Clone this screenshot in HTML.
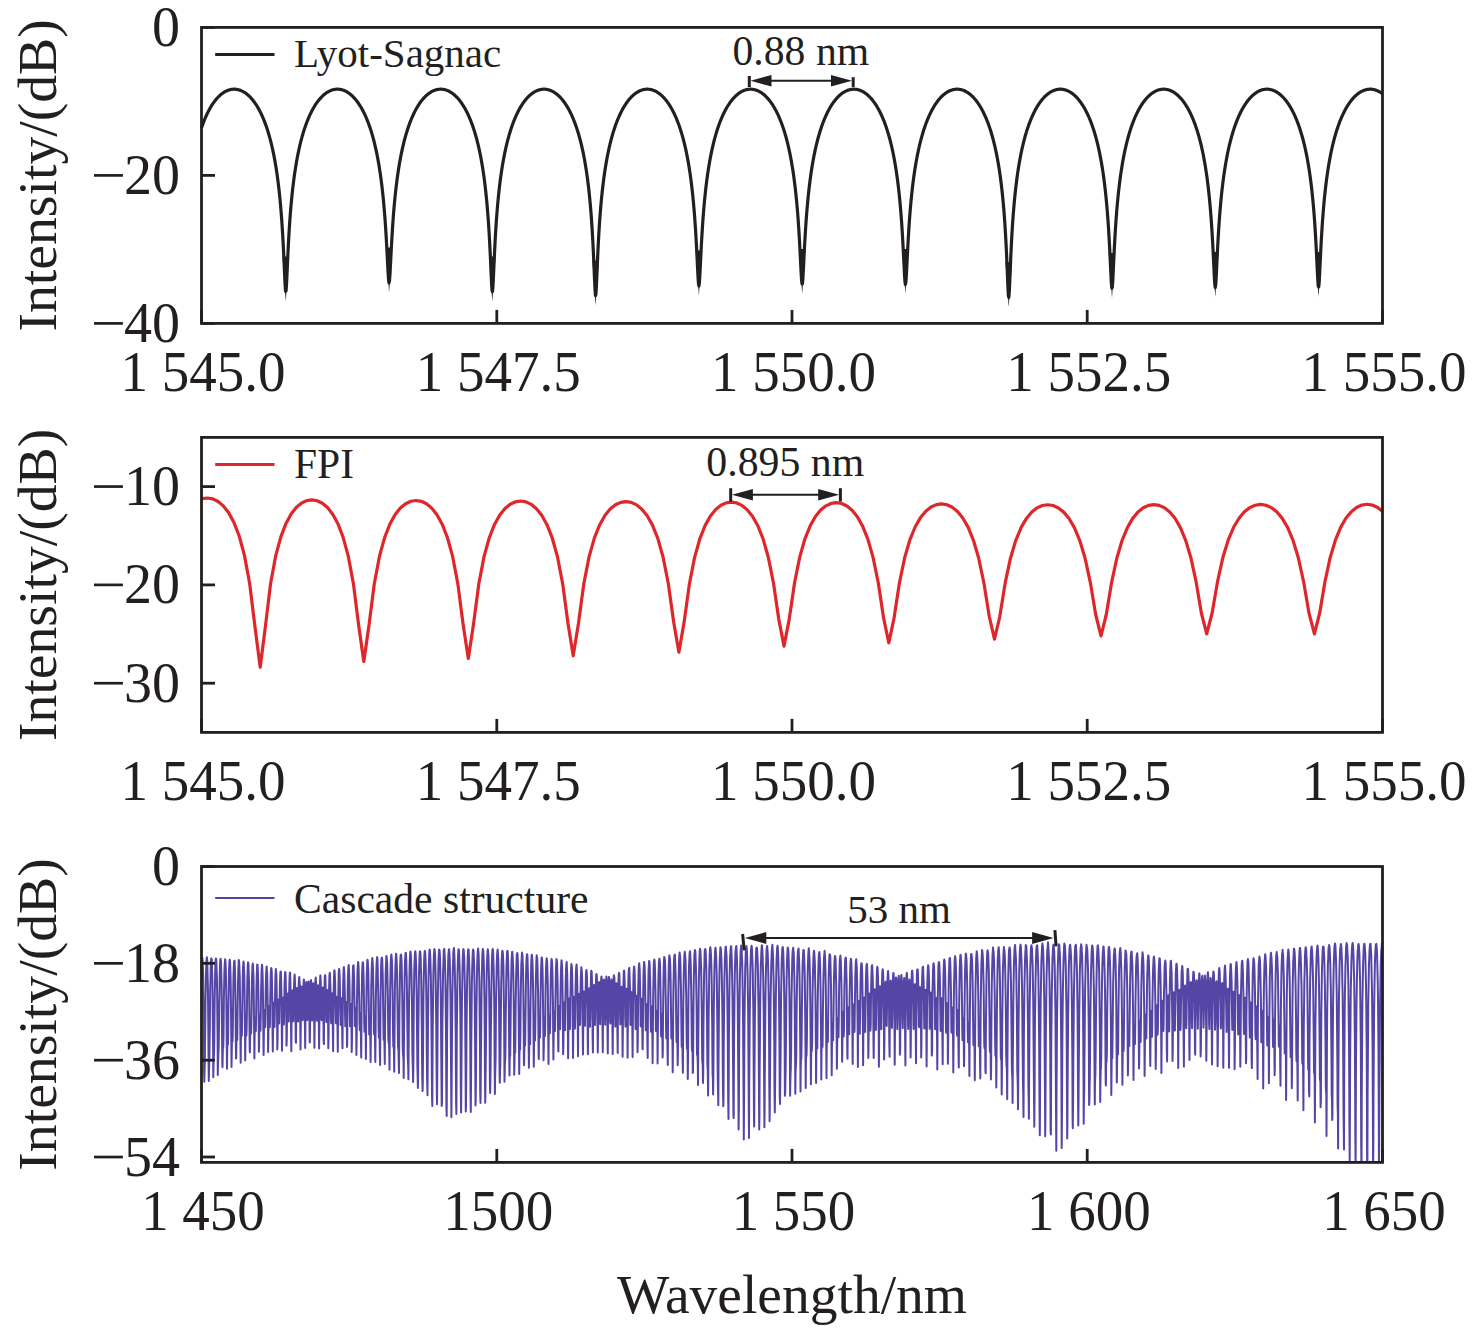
<!DOCTYPE html>
<html><head><meta charset="utf-8"><style>
html,body{margin:0;padding:0;background:#fff;}
svg{display:block;}
text{font-family:"Liberation Serif",serif;fill:#231f20;}
</style></head><body>
<svg width="1476" height="1331" viewBox="0 0 1476 1331">
<rect width="1476" height="1331" fill="#fff"/>
<path d="M201.50 127.97L201.97 126.58 202.44 125.24 202.92 123.93 203.39 122.66 203.86 121.44 204.33 120.24 204.81 119.08 205.28 117.96 205.75 116.87 206.22 115.80 206.70 114.77 207.17 113.77 207.64 112.80 208.11 111.85 208.59 110.93 209.06 110.04 209.53 109.17 210.00 108.32 210.48 107.50 210.95 106.71 211.42 105.93 211.89 105.18 212.37 104.45 212.84 103.74 213.31 103.06 213.78 102.39 214.25 101.74 214.73 101.11 215.20 100.50 215.67 99.91 216.14 99.34 216.62 98.79 217.09 98.25 217.56 97.74 218.03 97.24 218.51 96.75 218.98 96.29 219.45 95.84 219.92 95.40 220.40 94.98 220.87 94.58 221.34 94.19 221.81 93.82 222.29 93.47 222.76 93.13 223.23 92.80 223.70 92.49 224.18 92.19 224.65 91.91 225.12 91.65 225.59 91.39 226.06 91.15 226.54 90.93 227.01 90.72 227.48 90.52 227.95 90.34 228.43 90.17 228.90 90.01 229.37 89.87 229.84 89.74 230.32 89.63 230.79 89.53 231.26 89.44 231.73 89.36 232.21 89.30 232.68 89.25 233.15 89.22 233.62 89.20 234.10 89.19 234.57 89.19 235.04 89.21 235.51 89.24 235.99 89.29 236.46 89.35 236.93 89.42 237.40 89.50 237.87 89.60 238.35 89.71 238.82 89.84 239.29 89.98 239.76 90.13 240.24 90.29 240.71 90.47 241.18 90.67 241.65 90.87 242.13 91.09 242.60 91.33 243.07 91.58 243.54 91.84 244.02 92.12 244.49 92.41 244.96 92.72 245.43 93.04 245.91 93.38 246.38 93.73 246.85 94.10 247.32 94.48 247.80 94.88 248.27 95.29 248.74 95.72 249.21 96.17 249.68 96.63 250.16 97.11 250.63 97.60 251.10 98.12 251.57 98.65 252.05 99.20 252.52 99.76 252.99 100.35 253.46 100.95 253.94 101.57 254.41 102.22 254.88 102.88 255.35 103.56 255.83 104.26 256.30 104.99 256.77 105.73 257.24 106.50 257.72 107.29 258.19 108.11 258.66 108.94 259.13 109.81 259.61 110.69 260.08 111.61 260.55 112.54 261.02 113.51 261.49 114.51 261.97 115.53 262.44 116.58 262.91 117.67 263.38 118.78 263.86 119.93 264.33 121.12 264.80 122.34 265.27 123.59 265.75 124.89 266.22 126.22 266.69 127.60 267.16 129.02 267.64 130.49 268.11 132.00 268.58 133.56 269.05 135.18 269.53 136.84 270.00 138.57 270.47 140.36 270.94 142.21 271.42 144.13 271.89 146.12 272.36 148.19 272.83 150.34 273.30 152.58 273.78 154.91 274.25 157.34 274.72 159.88 275.19 162.53 275.67 165.31 276.14 168.23 276.61 171.29 277.08 174.52 277.56 177.93 278.03 181.54 278.50 185.36 278.97 189.44 279.45 193.79 279.92 198.45 280.39 203.47 280.86 208.90 281.34 214.79 281.81 221.23 282.28 228.30 282.75 236.10 283.23 244.74 283.70 254.28 284.17 264.65 284.64 275.41 285.11 285.20 285.59 291.30 286.06 290.88 286.53 284.17 287.00 274.15 287.48 263.39 287.95 253.10 288.42 243.67 288.89 235.14 289.37 227.43 289.84 220.44 290.31 214.07 290.78 208.23 291.26 202.86 291.73 197.88 292.20 193.26 292.67 188.94 293.15 184.90 293.62 181.10 294.09 177.52 294.56 174.13 295.04 170.92 295.51 167.87 295.98 164.97 296.45 162.21 296.92 159.57 297.40 157.05 297.87 154.63 298.34 152.31 298.81 150.08 299.29 147.94 299.76 145.88 300.23 143.90 300.70 141.99 301.18 140.14 301.65 138.36 302.12 136.64 302.59 134.98 303.07 133.37 303.54 131.82 304.01 130.31 304.48 128.85 304.96 127.44 305.43 126.06 305.90 124.73 306.37 123.44 306.85 122.19 307.32 120.98 307.79 119.80 308.26 118.65 308.73 117.54 309.21 116.46 309.68 115.41 310.15 114.39 310.62 113.40 311.10 112.43 311.57 111.50 312.04 110.59 312.51 109.70 312.99 108.84 313.46 108.01 313.93 107.20 314.40 106.41 314.88 105.64 315.35 104.90 315.82 104.18 316.29 103.48 316.77 102.80 317.24 102.14 317.71 101.50 318.18 100.88 318.66 100.28 319.13 99.69 319.60 99.13 320.07 98.58 320.54 98.06 321.02 97.54 321.49 97.05 321.96 96.57 322.43 96.11 322.91 95.67 323.38 95.24 323.85 94.83 324.32 94.43 324.80 94.05 325.27 93.69 325.74 93.34 326.21 93.00 326.69 92.68 327.16 92.38 327.63 92.09 328.10 91.81 328.58 91.55 329.05 91.30 329.52 91.07 329.99 90.85 330.47 90.64 330.94 90.45 331.41 90.27 331.88 90.11 332.35 89.96 332.83 89.82 333.30 89.70 333.77 89.59 334.24 89.49 334.72 89.41 335.19 89.34 335.66 89.28 336.13 89.24 336.61 89.21 337.08 89.19 337.55 89.19 338.02 89.20 338.50 89.22 338.97 89.26 339.44 89.31 339.91 89.37 340.39 89.45 340.86 89.54 341.33 89.64 341.80 89.76 342.28 89.89 342.75 90.03 343.22 90.19 343.69 90.36 344.16 90.54 344.64 90.74 345.11 90.95 345.58 91.18 346.05 91.42 346.53 91.67 347.00 91.94 347.47 92.23 347.94 92.52 348.42 92.84 348.89 93.16 349.36 93.51 349.83 93.86 350.31 94.24 350.78 94.62 351.25 95.03 351.72 95.45 352.20 95.88 352.67 96.34 353.14 96.80 353.61 97.29 354.09 97.79 354.56 98.31 355.03 98.85 355.50 99.40 355.97 99.98 356.45 100.57 356.92 101.18 357.39 101.81 357.86 102.46 358.34 103.13 358.81 103.82 359.28 104.53 359.75 105.26 360.23 106.01 360.70 106.79 361.17 107.59 361.64 108.41 362.12 109.25 362.59 110.12 363.06 111.02 363.53 111.94 364.01 112.89 364.48 113.87 364.95 114.87 365.42 115.90 365.90 116.97 366.37 118.06 366.84 119.19 367.31 120.35 367.78 121.55 368.26 122.78 368.73 124.05 369.20 125.35 369.67 126.70 370.15 128.09 370.62 129.53 371.09 131.01 371.56 132.53 372.04 134.11 372.51 135.74 372.98 137.43 373.45 139.18 373.93 140.98 374.40 142.85 374.87 144.79 375.34 146.81 375.82 148.90 376.29 151.07 376.76 153.34 377.23 155.69 377.71 158.15 378.18 160.72 378.65 163.40 379.12 166.22 379.59 169.17 380.07 172.27 380.54 175.54 381.01 178.99 381.48 182.64 381.96 186.51 382.43 190.63 382.90 195.03 383.37 199.74 383.85 204.81 384.32 210.27 384.79 216.20 385.26 222.64 385.74 229.67 386.21 237.35 386.68 245.72 387.15 254.72 387.63 264.08 388.10 273.04 388.57 280.05 389.04 282.99 389.52 280.65 389.99 274.01 390.46 265.19 390.93 255.83 391.40 246.76 391.88 238.31 392.35 230.55 392.82 223.45 393.29 216.94 393.77 210.95 394.24 205.44 394.71 200.33 395.18 195.58 395.66 191.14 396.13 186.99 396.60 183.09 397.07 179.41 397.55 175.94 398.02 172.65 398.49 169.53 398.96 166.56 399.44 163.73 399.91 161.03 400.38 158.45 400.85 155.98 401.33 153.61 401.80 151.34 402.27 149.15 402.74 147.05 403.21 145.03 403.69 143.08 404.16 141.20 404.63 139.39 405.10 137.63 405.58 135.94 406.05 134.30 406.52 132.72 406.99 131.19 407.47 129.70 407.94 128.26 408.41 126.87 408.88 125.51 409.36 124.20 409.83 122.93 410.30 121.69 410.77 120.49 411.25 119.33 411.72 118.20 412.19 117.10 412.66 116.03 413.14 114.99 413.61 113.98 414.08 113.00 414.55 112.05 415.02 111.13 415.50 110.23 415.97 109.36 416.44 108.51 416.91 107.68 417.39 106.88 417.86 106.10 418.33 105.35 418.80 104.61 419.28 103.90 419.75 103.21 420.22 102.54 420.69 101.88 421.17 101.25 421.64 100.64 422.11 100.05 422.58 99.47 423.06 98.91 423.53 98.37 424.00 97.85 424.47 97.35 424.95 96.86 425.42 96.39 425.89 95.94 426.36 95.50 426.83 95.08 427.31 94.67 427.78 94.28 428.25 93.91 428.72 93.55 429.20 93.20 429.67 92.88 430.14 92.56 430.61 92.26 431.09 91.98 431.56 91.71 432.03 91.45 432.50 91.21 432.98 90.98 433.45 90.77 433.92 90.57 434.39 90.38 434.87 90.21 435.34 90.05 435.81 89.90 436.28 89.77 436.76 89.65 437.23 89.55 437.70 89.46 438.17 89.38 438.64 89.32 439.12 89.27 439.59 89.23 440.06 89.20 440.53 89.19 441.01 89.19 441.48 89.21 441.95 89.24 442.42 89.28 442.90 89.33 443.37 89.40 443.84 89.48 444.31 89.58 444.79 89.68 445.26 89.81 445.73 89.94 446.20 90.09 446.68 90.25 447.15 90.43 447.62 90.62 448.09 90.82 448.57 91.04 449.04 91.27 449.51 91.52 449.98 91.78 450.45 92.05 450.93 92.34 451.40 92.64 451.87 92.96 452.34 93.30 452.82 93.64 453.29 94.01 453.76 94.39 454.23 94.78 454.71 95.19 455.18 95.62 455.65 96.06 456.12 96.52 456.60 96.99 457.07 97.48 457.54 97.99 458.01 98.52 458.49 99.06 458.96 99.63 459.43 100.21 459.90 100.81 460.38 101.42 460.85 102.06 461.32 102.72 461.79 103.40 462.26 104.10 462.74 104.81 463.21 105.55 463.68 106.32 464.15 107.10 464.63 107.91 465.10 108.74 465.57 109.60 466.04 110.48 466.52 111.39 466.99 112.32 467.46 113.28 467.93 114.27 468.41 115.28 468.88 116.33 469.35 117.41 469.82 118.52 470.30 119.66 470.77 120.83 471.24 122.05 471.71 123.29 472.19 124.58 472.66 125.90 473.13 127.27 473.60 128.68 474.07 130.13 474.55 131.63 475.02 133.19 475.49 134.79 475.96 136.44 476.44 138.16 476.91 139.93 477.38 141.77 477.85 143.67 478.33 145.64 478.80 147.69 479.27 149.82 479.74 152.04 480.22 154.35 480.69 156.75 481.16 159.26 481.63 161.89 482.11 164.64 482.58 167.52 483.05 170.55 483.52 173.74 484.00 177.10 484.47 180.66 484.94 184.43 485.41 188.45 485.88 192.73 486.36 197.31 486.83 202.24 487.30 207.57 487.77 213.35 488.25 219.65 488.72 226.56 489.19 234.18 489.66 242.61 490.14 251.93 490.61 262.13 491.08 272.87 491.55 283.09 492.03 290.37 492.50 291.62 492.97 286.19 493.44 276.67 493.92 265.92 494.39 255.47 494.86 245.83 495.33 237.09 495.81 229.19 496.28 222.04 496.75 215.53 497.22 209.57 497.69 204.09 498.17 199.03 498.64 194.33 499.11 189.94 499.58 185.83 500.06 181.98 500.53 178.35 501.00 174.92 501.47 171.67 501.95 168.58 502.42 165.65 502.89 162.85 503.36 160.19 503.84 157.64 504.31 155.19 504.78 152.85 505.25 150.60 505.73 148.44 506.20 146.37 506.67 144.36 507.14 142.44 507.62 140.58 508.09 138.78 508.56 137.05 509.03 135.37 509.50 133.75 509.98 132.18 510.45 130.66 510.92 129.19 511.39 127.77 511.87 126.39 512.34 125.05 512.81 123.75 513.28 122.49 513.76 121.26 514.23 120.07 514.70 118.92 515.17 117.80 515.65 116.71 516.12 115.65 516.59 114.63 517.06 113.63 517.54 112.66 518.01 111.72 518.48 110.80 518.95 109.91 519.43 109.04 519.90 108.20 520.37 107.39 520.84 106.59 521.31 105.82 521.79 105.08 522.26 104.35 522.73 103.64 523.20 102.96 523.68 102.29 524.15 101.65 524.62 101.02 525.09 100.42 525.57 99.83 526.04 99.26 526.51 98.71 526.98 98.18 527.46 97.66 527.93 97.17 528.40 96.68 528.87 96.22 529.35 95.77 529.82 95.34 530.29 94.92 530.76 94.52 531.24 94.14 531.71 93.77 532.18 93.42 532.65 93.08 533.12 92.76 533.60 92.45 534.07 92.15 534.54 91.87 535.01 91.61 535.49 91.36 535.96 91.12 536.43 90.90 536.90 90.69 537.38 90.49 537.85 90.31 538.32 90.15 538.79 89.99 539.27 89.85 539.74 89.73 540.21 89.61 540.68 89.51 541.16 89.43 541.63 89.35 542.10 89.30 542.57 89.25 543.05 89.22 543.52 89.20 543.99 89.19 544.46 89.20 544.93 89.22 545.41 89.25 545.88 89.30 546.35 89.36 546.82 89.43 547.30 89.52 547.77 89.62 548.24 89.73 548.71 89.86 549.19 90.00 549.66 90.15 550.13 90.32 550.60 90.50 551.08 90.69 551.55 90.90 552.02 91.13 552.49 91.36 552.97 91.62 553.44 91.88 553.91 92.16 554.38 92.46 554.86 92.76 555.33 93.09 555.80 93.43 556.27 93.78 556.74 94.15 557.22 94.54 557.69 94.94 558.16 95.35 558.63 95.78 559.11 96.23 559.58 96.70 560.05 97.18 560.52 97.68 561.00 98.19 561.47 98.73 561.94 99.28 562.41 99.85 562.89 100.44 563.36 101.04 563.83 101.67 564.30 102.31 564.78 102.98 565.25 103.66 565.72 104.37 566.19 105.10 566.67 105.85 567.14 106.62 567.61 107.41 568.08 108.23 568.55 109.07 569.03 109.94 569.50 110.83 569.97 111.75 570.44 112.69 570.92 113.66 571.39 114.66 571.86 115.69 572.33 116.75 572.81 117.84 573.28 118.96 573.75 120.11 574.22 121.30 574.70 122.53 575.17 123.79 575.64 125.09 576.11 126.43 576.59 127.82 577.06 129.25 577.53 130.72 578.00 132.24 578.48 133.81 578.95 135.43 579.42 137.11 579.89 138.85 580.36 140.65 580.84 142.51 581.31 144.44 581.78 146.45 582.25 148.53 582.73 150.70 583.20 152.95 583.67 155.30 584.14 157.75 584.62 160.31 585.09 162.98 585.56 165.79 586.03 168.73 586.51 171.83 586.98 175.09 587.45 178.54 587.92 182.19 588.40 186.07 588.87 190.20 589.34 194.61 589.81 199.35 590.29 204.46 590.76 210.00 591.23 216.03 591.70 222.63 592.17 229.91 592.65 237.98 593.12 246.96 593.59 256.96 594.06 267.92 594.54 279.37 595.01 289.71 595.48 295.64 595.95 294.02 596.43 285.82 596.90 274.73 597.37 263.36 597.84 252.77 598.32 243.20 598.79 234.60 599.26 226.87 599.73 219.87 600.21 213.51 600.68 207.69 601.15 202.34 601.62 197.39 602.10 192.78 602.57 188.49 603.04 184.46 603.51 180.68 603.98 177.12 604.46 173.75 604.93 170.55 605.40 167.52 605.87 164.63 606.35 161.88 606.82 159.25 607.29 156.74 607.76 154.33 608.24 152.02 608.71 149.81 609.18 147.68 609.65 145.63 610.13 143.65 610.60 141.75 611.07 139.91 611.54 138.14 612.02 136.42 612.49 134.77 612.96 133.17 613.43 131.62 613.91 130.11 614.38 128.66 614.85 127.25 615.32 125.88 615.79 124.56 616.27 123.27 616.74 122.03 617.21 120.82 617.68 119.64 618.16 118.50 618.63 117.39 619.10 116.31 619.57 115.27 620.05 114.25 620.52 113.26 620.99 112.30 621.46 111.37 621.94 110.46 622.41 109.58 622.88 108.73 623.35 107.90 623.83 107.09 624.30 106.30 624.77 105.54 625.24 104.80 625.72 104.08 626.19 103.38 626.66 102.71 627.13 102.05 627.60 101.41 628.08 100.79 628.55 100.20 629.02 99.61 629.49 99.05 629.97 98.51 630.44 97.98 630.91 97.47 631.38 96.98 631.86 96.51 632.33 96.05 632.80 95.61 633.27 95.18 633.75 94.77 634.22 94.38 634.69 94.00 635.16 93.64 635.64 93.29 636.11 92.95 636.58 92.64 637.05 92.33 637.53 92.05 638.00 91.77 638.47 91.51 638.94 91.27 639.41 91.03 639.89 90.82 640.36 90.61 640.83 90.42 641.30 90.25 641.78 90.09 642.25 89.94 642.72 89.80 643.19 89.68 643.67 89.57 644.14 89.48 644.61 89.40 645.08 89.33 645.56 89.28 646.03 89.24 646.50 89.21 646.97 89.19 647.45 89.19 647.92 89.20 648.39 89.23 648.86 89.27 649.34 89.32 649.81 89.38 650.28 89.46 650.75 89.55 651.22 89.66 651.70 89.78 652.17 89.91 652.64 90.05 653.11 90.21 653.59 90.39 654.06 90.57 654.53 90.77 655.00 90.99 655.48 91.21 655.95 91.46 656.42 91.71 656.89 91.98 657.37 92.27 657.84 92.57 658.31 92.88 658.78 93.21 659.26 93.56 659.73 93.92 660.20 94.29 660.67 94.68 661.15 95.09 661.62 95.51 662.09 95.95 662.56 96.40 663.03 96.87 663.51 97.36 663.98 97.87 664.45 98.39 664.92 98.93 665.40 99.49 665.87 100.06 666.34 100.66 666.81 101.27 667.29 101.90 667.76 102.56 668.23 103.23 668.70 103.92 669.18 104.63 669.65 105.37 670.12 106.13 670.59 106.91 671.07 107.71 671.54 108.53 672.01 109.38 672.48 110.26 672.96 111.16 673.43 112.08 673.90 113.04 674.37 114.02 674.84 115.03 675.32 116.06 675.79 117.13 676.26 118.23 676.73 119.37 677.21 120.53 677.68 121.73 678.15 122.97 678.62 124.25 679.10 125.56 679.57 126.92 680.04 128.31 680.51 129.75 680.99 131.24 681.46 132.78 681.93 134.37 682.40 136.01 682.88 137.70 683.35 139.46 683.82 141.28 684.29 143.16 684.77 145.11 685.24 147.14 685.71 149.24 686.18 151.43 686.65 153.71 687.13 156.09 687.60 158.57 688.07 161.16 688.54 163.86 689.02 166.70 689.49 169.68 689.96 172.82 690.43 176.12 690.91 179.61 691.38 183.30 691.85 187.23 692.32 191.41 692.80 195.87 693.27 200.66 693.74 205.82 694.21 211.40 694.69 217.46 695.16 224.06 695.63 231.30 696.10 239.24 696.58 247.93 697.05 257.32 697.52 267.12 697.99 276.47 698.46 283.56 698.94 285.98 699.41 282.63 699.88 274.99 700.35 265.46 700.83 255.69 701.30 246.40 701.77 237.84 702.24 230.03 702.72 222.91 703.19 216.40 703.66 210.42 704.13 204.92 704.61 199.83 705.08 195.10 705.55 190.68 706.02 186.55 706.50 182.66 706.97 179.01 707.44 175.55 707.91 172.28 708.39 169.17 708.86 166.21 709.33 163.40 709.80 160.71 710.27 158.14 710.75 155.68 711.22 153.32 711.69 151.06 712.16 148.88 712.64 146.79 713.11 144.78 713.58 142.84 714.05 140.96 714.53 139.16 715.00 137.41 715.47 135.72 715.94 134.09 716.42 132.52 716.89 130.99 717.36 129.51 717.83 128.07 718.31 126.68 718.78 125.34 719.25 124.03 719.72 122.76 720.20 121.53 720.67 120.33 721.14 119.17 721.61 118.04 722.08 116.95 722.56 115.89 723.03 114.85 723.50 113.85 723.97 112.87 724.45 111.92 724.92 111.00 725.39 110.11 725.86 109.24 726.34 108.39 726.81 107.57 727.28 106.77 727.75 106.00 728.23 105.24 728.70 104.51 729.17 103.80 729.64 103.11 730.12 102.44 730.59 101.80 731.06 101.17 731.53 100.56 732.01 99.96 732.48 99.39 732.95 98.84 733.42 98.30 733.89 97.78 734.37 97.28 734.84 96.79 735.31 96.33 735.78 95.87 736.26 95.44 736.73 95.02 737.20 94.62 737.67 94.23 738.15 93.86 738.62 93.50 739.09 93.16 739.56 92.83 740.04 92.52 740.51 92.22 740.98 91.94 741.45 91.67 741.93 91.41 742.40 91.17 742.87 90.95 743.34 90.74 743.82 90.54 744.29 90.36 744.76 90.18 745.23 90.03 745.70 89.88 746.18 89.76 746.65 89.64 747.12 89.54 747.59 89.45 748.07 89.37 748.54 89.31 749.01 89.26 749.48 89.22 749.96 89.20 750.43 89.19 750.90 89.19 751.37 89.21 751.85 89.24 752.32 89.28 752.79 89.34 753.26 89.41 753.74 89.49 754.21 89.59 754.68 89.70 755.15 89.82 755.63 89.96 756.10 90.11 756.57 90.28 757.04 90.45 757.51 90.65 757.99 90.85 758.46 91.07 758.93 91.31 759.40 91.55 759.88 91.81 760.35 92.09 760.82 92.38 761.29 92.69 761.77 93.01 762.24 93.34 762.71 93.69 763.18 94.06 763.66 94.44 764.13 94.84 764.60 95.25 765.07 95.68 765.55 96.12 766.02 96.58 766.49 97.06 766.96 97.55 767.44 98.06 767.91 98.59 768.38 99.14 768.85 99.70 769.32 100.29 769.80 100.89 770.27 101.51 770.74 102.15 771.21 102.81 771.69 103.49 772.16 104.19 772.63 104.91 773.10 105.65 773.58 106.42 774.05 107.21 774.52 108.02 774.99 108.85 775.47 109.71 775.94 110.59 776.41 111.50 776.88 112.44 777.36 113.40 777.83 114.39 778.30 115.41 778.77 116.46 779.25 117.54 779.72 118.66 780.19 119.80 780.66 120.98 781.13 122.20 781.61 123.45 782.08 124.74 782.55 126.06 783.02 127.44 783.50 128.85 783.97 130.31 784.44 131.81 784.91 133.37 785.39 134.97 785.86 136.63 786.33 138.35 786.80 140.13 787.28 141.97 787.75 143.88 788.22 145.86 788.69 147.91 789.17 150.05 789.64 152.27 790.11 154.59 790.58 157.00 791.06 159.51 791.53 162.14 792.00 164.90 792.47 167.79 792.94 170.82 793.42 174.01 793.89 177.38 794.36 180.94 794.83 184.71 795.31 188.72 795.78 192.99 796.25 197.57 796.72 202.47 797.20 207.76 797.67 213.49 798.14 219.71 798.61 226.51 799.09 233.94 799.56 242.07 800.03 250.92 800.50 260.34 800.98 269.87 801.45 278.34 801.92 283.69 802.39 283.88 802.87 278.83 803.34 270.50 803.81 261.00 804.28 251.54 804.75 242.65 805.23 234.47 805.70 226.99 806.17 220.16 806.64 213.90 807.12 208.14 807.59 202.82 808.06 197.89 808.53 193.30 809.01 189.00 809.48 184.98 809.95 181.19 810.42 177.62 810.90 174.24 811.37 171.03 811.84 167.99 812.31 165.09 812.79 162.33 813.26 159.69 813.73 157.16 814.20 154.75 814.68 152.43 815.15 150.20 815.62 148.06 816.09 146.00 816.56 144.01 817.04 142.10 817.51 140.25 817.98 138.47 818.45 136.75 818.93 135.09 819.40 133.48 819.87 131.92 820.34 130.41 820.82 128.95 821.29 127.53 821.76 126.16 822.23 124.83 822.71 123.53 823.18 122.28 823.65 121.06 824.12 119.88 824.60 118.73 825.07 117.62 825.54 116.54 826.01 115.48 826.49 114.46 826.96 113.47 827.43 112.50 827.90 111.57 828.37 110.66 828.85 109.77 829.32 108.91 829.79 108.07 830.26 107.26 830.74 106.47 831.21 105.70 831.68 104.96 832.15 104.24 832.63 103.53 833.10 102.85 833.57 102.19 834.04 101.55 834.52 100.93 834.99 100.33 835.46 99.74 835.93 99.18 836.41 98.63 836.88 98.10 837.35 97.59 837.82 97.09 838.30 96.61 838.77 96.15 839.24 95.71 839.71 95.28 840.18 94.86 840.66 94.47 841.13 94.08 841.60 93.72 842.07 93.37 842.55 93.03 843.02 92.71 843.49 92.40 843.96 92.11 844.44 91.83 844.91 91.57 845.38 91.32 845.85 91.09 846.33 90.87 846.80 90.66 847.27 90.47 847.74 90.29 848.22 90.12 848.69 89.97 849.16 89.83 849.63 89.71 850.11 89.60 850.58 89.50 851.05 89.42 851.52 89.35 851.99 89.29 852.47 89.24 852.94 89.21 853.41 89.19 853.88 89.19 854.36 89.20 854.83 89.22 855.30 89.26 855.77 89.30 856.25 89.37 856.72 89.44 857.19 89.53 857.66 89.63 858.14 89.75 858.61 89.88 859.08 90.02 859.55 90.17 860.03 90.34 860.50 90.53 860.97 90.72 861.44 90.93 861.92 91.16 862.39 91.40 862.86 91.65 863.33 91.92 863.80 92.20 864.28 92.50 864.75 92.81 865.22 93.13 865.69 93.47 866.17 93.83 866.64 94.20 867.11 94.59 867.58 94.99 868.06 95.41 868.53 95.84 869.00 96.29 869.47 96.76 869.95 97.24 870.42 97.74 870.89 98.26 871.36 98.80 871.84 99.35 872.31 99.92 872.78 100.51 873.25 101.12 873.73 101.75 874.20 102.40 874.67 103.06 875.14 103.75 875.61 104.46 876.09 105.19 876.56 105.94 877.03 106.72 877.50 107.51 877.98 108.33 878.45 109.18 878.92 110.04 879.39 110.94 879.87 111.86 880.34 112.80 880.81 113.78 881.28 114.78 881.76 115.81 882.23 116.87 882.70 117.96 883.17 119.09 883.65 120.25 884.12 121.44 884.59 122.67 885.06 123.93 885.54 125.24 886.01 126.58 886.48 127.97 886.95 129.40 887.42 130.88 887.90 132.40 888.37 133.97 888.84 135.60 889.31 137.28 889.79 139.02 890.26 140.82 890.73 142.69 891.20 144.63 891.68 146.63 892.15 148.72 892.62 150.89 893.09 153.14 893.57 155.49 894.04 157.94 894.51 160.50 894.98 163.18 895.46 165.98 895.93 168.92 896.40 172.02 896.87 175.27 897.35 178.71 897.82 182.35 898.29 186.21 898.76 190.32 899.23 194.70 899.71 199.39 900.18 204.44 900.65 209.89 901.12 215.80 901.60 222.23 902.07 229.26 902.54 236.95 903.01 245.36 903.49 254.46 903.96 264.01 904.43 273.32 904.90 280.88 905.38 284.43 905.85 282.49 906.32 275.91 906.79 266.93 907.27 257.35 907.74 248.07 908.21 239.45 908.68 231.54 909.16 224.31 909.63 217.71 910.10 211.65 910.57 206.06 911.04 200.90 911.52 196.10 911.99 191.62 912.46 187.44 912.93 183.50 913.41 179.80 913.88 176.30 914.35 172.99 914.82 169.85 915.30 166.87 915.77 164.02 916.24 161.31 916.71 158.71 917.19 156.23 917.66 153.85 918.13 151.57 918.60 149.37 919.08 147.26 919.55 145.23 920.02 143.28 920.49 141.39 920.97 139.57 921.44 137.81 921.91 136.11 922.38 134.47 922.85 132.88 923.33 131.34 923.80 129.85 924.27 128.40 924.74 127.00 925.22 125.64 925.69 124.33 926.16 123.05 926.63 121.81 927.11 120.61 927.58 119.44 928.05 118.30 928.52 117.20 929.00 116.13 929.47 115.09 929.94 114.08 930.41 113.10 930.89 112.14 931.36 111.22 931.83 110.31 932.30 109.44 932.78 108.59 933.25 107.76 933.72 106.96 934.19 106.18 934.66 105.42 935.14 104.68 935.61 103.97 936.08 103.27 936.55 102.60 937.03 101.95 937.50 101.31 937.97 100.70 938.44 100.10 938.92 99.52 939.39 98.97 939.86 98.42 940.33 97.90 940.81 97.40 941.28 96.91 941.75 96.43 942.22 95.98 942.70 95.54 943.17 95.12 943.64 94.71 944.11 94.32 944.59 93.94 945.06 93.58 945.53 93.24 946.00 92.91 946.47 92.59 946.95 92.29 947.42 92.00 947.89 91.73 948.36 91.47 948.84 91.23 949.31 91.00 949.78 90.79 950.25 90.58 950.73 90.40 951.20 90.22 951.67 90.06 952.14 89.92 952.62 89.78 953.09 89.67 953.56 89.56 954.03 89.47 954.51 89.39 954.98 89.32 955.45 89.27 955.92 89.23 956.40 89.20 956.87 89.19 957.34 89.19 957.81 89.21 958.28 89.23 958.76 89.27 959.23 89.33 959.70 89.39 960.17 89.47 960.65 89.57 961.12 89.67 961.59 89.79 962.06 89.93 962.54 90.08 963.01 90.24 963.48 90.41 963.95 90.60 964.43 90.80 964.90 91.02 965.37 91.25 965.84 91.49 966.32 91.75 966.79 92.03 967.26 92.31 967.73 92.62 968.21 92.93 968.68 93.26 969.15 93.61 969.62 93.97 970.09 94.35 970.57 94.74 971.04 95.15 971.51 95.58 971.98 96.02 972.46 96.48 972.93 96.95 973.40 97.44 973.87 97.95 974.35 98.47 974.82 99.02 975.29 99.58 975.76 100.16 976.24 100.75 976.71 101.37 977.18 102.01 977.65 102.66 978.13 103.34 978.60 104.03 979.07 104.75 979.54 105.49 980.02 106.25 980.49 107.04 980.96 107.84 981.43 108.67 981.90 109.53 982.38 110.41 982.85 111.31 983.32 112.24 983.79 113.20 984.27 114.19 984.74 115.20 985.21 116.24 985.68 117.32 986.16 118.43 986.63 119.57 987.10 120.74 987.57 121.95 988.05 123.19 988.52 124.48 988.99 125.80 989.46 127.16 989.94 128.57 990.41 130.02 990.88 131.52 991.35 133.07 991.83 134.67 992.30 136.32 992.77 138.03 993.24 139.80 993.71 141.63 994.19 143.53 994.66 145.50 995.13 147.55 995.60 149.67 996.08 151.89 996.55 154.19 997.02 156.59 997.49 159.10 997.97 161.72 998.44 164.47 998.91 167.35 999.38 170.37 999.86 173.56 1000.33 176.92 1000.80 180.47 1001.27 184.25 1001.75 188.26 1002.22 192.54 1002.69 197.13 1003.16 202.08 1003.64 207.42 1004.11 213.22 1004.58 219.57 1005.05 226.55 1005.52 234.28 1006.00 242.89 1006.47 252.51 1006.94 263.20 1007.41 274.78 1007.89 286.31 1008.36 295.21 1008.83 297.47 1009.30 291.72 1009.78 281.17 1010.25 269.41 1010.72 258.18 1011.19 247.98 1011.67 238.84 1012.14 230.65 1012.61 223.28 1013.08 216.60 1013.56 210.51 1014.03 204.92 1014.50 199.77 1014.97 195.00 1015.45 190.55 1015.92 186.39 1016.39 182.49 1016.86 178.82 1017.33 175.36 1017.81 172.08 1018.28 168.97 1018.75 166.01 1019.22 163.20 1019.70 160.51 1020.17 157.94 1020.64 155.48 1021.11 153.13 1021.59 150.86 1022.06 148.69 1022.53 146.60 1023.00 144.59 1023.48 142.65 1023.95 140.78 1024.42 138.98 1024.89 137.24 1025.37 135.56 1025.84 133.93 1026.31 132.35 1026.78 130.83 1027.26 129.35 1027.73 127.92 1028.20 126.53 1028.67 125.19 1029.14 123.88 1029.62 122.62 1030.09 121.39 1030.56 120.20 1031.03 119.04 1031.51 117.92 1031.98 116.82 1032.45 115.76 1032.92 114.73 1033.40 113.73 1033.87 112.76 1034.34 111.81 1034.81 110.89 1035.29 110.00 1035.76 109.13 1036.23 108.29 1036.70 107.47 1037.18 106.67 1037.65 105.90 1038.12 105.15 1038.59 104.42 1039.07 103.71 1039.54 103.03 1040.01 102.36 1040.48 101.71 1040.95 101.09 1041.43 100.48 1041.90 99.89 1042.37 99.32 1042.84 98.77 1043.32 98.23 1043.79 97.71 1044.26 97.21 1044.73 96.73 1045.21 96.26 1045.68 95.82 1046.15 95.38 1046.62 94.96 1047.10 94.56 1047.57 94.18 1048.04 93.81 1048.51 93.45 1048.99 93.11 1049.46 92.79 1049.93 92.48 1050.40 92.18 1050.88 91.90 1051.35 91.63 1051.82 91.38 1052.29 91.14 1052.76 90.92 1053.24 90.71 1053.71 90.51 1054.18 90.33 1054.65 90.16 1055.13 90.01 1055.60 89.87 1056.07 89.74 1056.54 89.62 1057.02 89.52 1057.49 89.44 1057.96 89.36 1058.43 89.30 1058.91 89.25 1059.38 89.22 1059.85 89.20 1060.32 89.19 1060.80 89.20 1061.27 89.21 1061.74 89.25 1062.21 89.29 1062.69 89.35 1063.16 89.42 1063.63 89.51 1064.10 89.61 1064.57 89.72 1065.05 89.84 1065.52 89.98 1065.99 90.14 1066.46 90.30 1066.94 90.48 1067.41 90.68 1067.88 90.88 1068.35 91.10 1068.83 91.34 1069.30 91.59 1069.77 91.85 1070.24 92.13 1070.72 92.43 1071.19 92.73 1071.66 93.06 1072.13 93.39 1072.61 93.75 1073.08 94.11 1073.55 94.50 1074.02 94.90 1074.50 95.31 1074.97 95.74 1075.44 96.19 1075.91 96.65 1076.38 97.13 1076.86 97.63 1077.33 98.14 1077.80 98.67 1078.27 99.22 1078.75 99.79 1079.22 100.38 1079.69 100.98 1080.16 101.60 1080.64 102.25 1081.11 102.91 1081.58 103.59 1082.05 104.30 1082.53 105.02 1083.00 105.77 1083.47 106.54 1083.94 107.33 1084.42 108.14 1084.89 108.98 1085.36 109.84 1085.83 110.73 1086.31 111.65 1086.78 112.59 1087.25 113.55 1087.72 114.55 1088.19 115.57 1088.67 116.63 1089.14 117.71 1089.61 118.83 1090.08 119.98 1090.56 121.17 1091.03 122.39 1091.50 123.65 1091.97 124.94 1092.45 126.28 1092.92 127.66 1093.39 129.08 1093.86 130.54 1094.34 132.06 1094.81 133.62 1095.28 135.24 1095.75 136.91 1096.23 138.64 1096.70 140.43 1097.17 142.28 1097.64 144.20 1098.12 146.19 1098.59 148.26 1099.06 150.42 1099.53 152.65 1100.00 154.99 1100.48 157.42 1100.95 159.96 1101.42 162.61 1101.89 165.39 1102.37 168.31 1102.84 171.37 1103.31 174.60 1103.78 178.01 1104.26 181.62 1104.73 185.44 1105.20 189.51 1105.67 193.85 1106.15 198.51 1106.62 203.51 1107.09 208.92 1107.56 214.78 1108.04 221.18 1108.51 228.19 1108.98 235.89 1109.45 244.38 1109.93 253.68 1110.40 263.67 1110.87 273.84 1111.34 282.82 1111.81 288.10 1112.29 287.40 1112.76 281.06 1113.23 271.65 1113.70 261.44 1114.18 251.57 1114.65 242.45 1115.12 234.14 1115.59 226.59 1116.07 219.73 1116.54 213.45 1117.01 207.69 1117.48 202.38 1117.96 197.45 1118.43 192.87 1118.90 188.59 1119.37 184.58 1119.85 180.80 1120.32 177.24 1120.79 173.88 1121.26 170.69 1121.74 167.66 1122.21 164.77 1122.68 162.02 1123.15 159.39 1123.62 156.87 1124.10 154.47 1124.57 152.15 1125.04 149.94 1125.51 147.80 1125.99 145.75 1126.46 143.77 1126.93 141.87 1127.40 140.03 1127.88 138.25 1128.35 136.54 1128.82 134.88 1129.29 133.27 1129.77 131.72 1130.24 130.22 1130.71 128.76 1131.18 127.35 1131.66 125.98 1132.13 124.65 1132.60 123.37 1133.07 122.12 1133.55 120.90 1134.02 119.73 1134.49 118.58 1134.96 117.47 1135.43 116.39 1135.91 115.35 1136.38 114.33 1136.85 113.34 1137.32 112.38 1137.80 111.44 1138.27 110.53 1138.74 109.65 1139.21 108.79 1139.69 107.96 1140.16 107.15 1140.63 106.37 1141.10 105.60 1141.58 104.86 1142.05 104.14 1142.52 103.44 1142.99 102.76 1143.47 102.10 1143.94 101.46 1144.41 100.85 1144.88 100.24 1145.36 99.66 1145.83 99.10 1146.30 98.55 1146.77 98.03 1147.24 97.52 1147.72 97.02 1148.19 96.55 1148.66 96.09 1149.13 95.64 1149.61 95.22 1150.08 94.81 1150.55 94.41 1151.02 94.03 1151.50 93.67 1151.97 93.32 1152.44 92.98 1152.91 92.66 1153.39 92.36 1153.86 92.07 1154.33 91.80 1154.80 91.53 1155.28 91.29 1155.75 91.05 1156.22 90.84 1156.69 90.63 1157.17 90.44 1157.64 90.26 1158.11 90.10 1158.58 89.95 1159.05 89.82 1159.53 89.69 1160.00 89.58 1160.47 89.49 1160.94 89.41 1161.42 89.34 1161.89 89.28 1162.36 89.24 1162.83 89.21 1163.31 89.19 1163.78 89.19 1164.25 89.20 1164.72 89.23 1165.20 89.26 1165.67 89.31 1166.14 89.38 1166.61 89.45 1167.09 89.54 1167.56 89.65 1168.03 89.76 1168.50 89.90 1168.98 90.04 1169.45 90.20 1169.92 90.37 1170.39 90.55 1170.86 90.75 1171.34 90.97 1171.81 91.19 1172.28 91.43 1172.75 91.69 1173.23 91.96 1173.70 92.24 1174.17 92.54 1174.64 92.85 1175.12 93.18 1175.59 93.53 1176.06 93.88 1176.53 94.26 1177.01 94.65 1177.48 95.05 1177.95 95.47 1178.42 95.91 1178.90 96.36 1179.37 96.83 1179.84 97.32 1180.31 97.82 1180.79 98.34 1181.26 98.88 1181.73 99.44 1182.20 100.01 1182.67 100.60 1183.15 101.21 1183.62 101.84 1184.09 102.50 1184.56 103.17 1185.04 103.86 1185.51 104.57 1185.98 105.30 1186.45 106.06 1186.93 106.83 1187.40 107.63 1187.87 108.46 1188.34 109.31 1188.82 110.18 1189.29 111.07 1189.76 112.00 1190.23 112.95 1190.71 113.93 1191.18 114.93 1191.65 115.97 1192.12 117.04 1192.60 118.13 1193.07 119.26 1193.54 120.43 1194.01 121.63 1194.48 122.86 1194.96 124.13 1195.43 125.44 1195.90 126.79 1196.37 128.19 1196.85 129.63 1197.32 131.11 1197.79 132.64 1198.26 134.22 1198.74 135.86 1199.21 137.55 1199.68 139.30 1200.15 141.12 1200.63 142.99 1201.10 144.94 1201.57 146.96 1202.04 149.06 1202.52 151.24 1202.99 153.52 1203.46 155.88 1203.93 158.35 1204.41 160.93 1204.88 163.63 1205.35 166.46 1205.82 169.43 1206.29 172.55 1206.77 175.85 1207.24 179.32 1207.71 183.00 1208.18 186.91 1208.66 191.07 1209.13 195.52 1209.60 200.29 1210.07 205.43 1210.55 210.99 1211.02 217.03 1211.49 223.62 1211.96 230.84 1212.44 238.78 1212.91 247.49 1213.38 256.97 1213.85 266.95 1214.33 276.67 1214.80 284.34 1215.27 287.40 1215.74 284.44 1216.22 276.83 1216.69 267.13 1217.16 257.14 1217.63 247.65 1218.10 238.92 1218.58 230.97 1219.05 223.74 1219.52 217.14 1219.99 211.09 1220.47 205.53 1220.94 200.38 1221.41 195.60 1221.88 191.15 1222.36 186.98 1222.83 183.07 1223.30 179.38 1223.77 175.90 1224.25 172.61 1224.72 169.49 1225.19 166.51 1225.66 163.68 1226.14 160.98 1226.61 158.40 1227.08 155.93 1227.55 153.56 1228.03 151.28 1228.50 149.10 1228.97 147.00 1229.44 144.98 1229.91 143.03 1230.39 141.15 1230.86 139.33 1231.33 137.58 1231.80 135.89 1232.28 134.25 1232.75 132.67 1233.22 131.14 1233.69 129.65 1234.17 128.21 1234.64 126.82 1235.11 125.47 1235.58 124.15 1236.06 122.88 1236.53 121.65 1237.00 120.45 1237.47 119.28 1237.95 118.15 1238.42 117.05 1238.89 115.99 1239.36 114.95 1239.84 113.94 1240.31 112.97 1240.78 112.01 1241.25 111.09 1241.72 110.19 1242.20 109.32 1242.67 108.47 1243.14 107.65 1243.61 106.85 1244.09 106.07 1244.56 105.31 1245.03 104.58 1245.50 103.87 1245.98 103.18 1246.45 102.51 1246.92 101.86 1247.39 101.22 1247.87 100.61 1248.34 100.02 1248.81 99.45 1249.28 98.89 1249.76 98.35 1250.23 97.83 1250.70 97.33 1251.17 96.84 1251.65 96.37 1252.12 95.92 1252.59 95.48 1253.06 95.06 1253.53 94.65 1254.01 94.26 1254.48 93.89 1254.95 93.53 1255.42 93.19 1255.90 92.86 1256.37 92.55 1256.84 92.25 1257.31 91.96 1257.79 91.69 1258.26 91.44 1258.73 91.20 1259.20 90.97 1259.68 90.76 1260.15 90.56 1260.62 90.37 1261.09 90.20 1261.57 90.04 1262.04 89.90 1262.51 89.77 1262.98 89.65 1263.46 89.55 1263.93 89.45 1264.40 89.38 1264.87 89.31 1265.34 89.26 1265.82 89.23 1266.29 89.20 1266.76 89.19 1267.23 89.19 1267.71 89.21 1268.18 89.24 1268.65 89.28 1269.12 89.34 1269.60 89.40 1270.07 89.49 1270.54 89.58 1271.01 89.69 1271.49 89.81 1271.96 89.95 1272.43 90.10 1272.90 90.26 1273.38 90.44 1273.85 90.63 1274.32 90.83 1274.79 91.05 1275.27 91.28 1275.74 91.53 1276.21 91.79 1276.68 92.07 1277.15 92.35 1277.63 92.66 1278.10 92.98 1278.57 93.31 1279.04 93.66 1279.52 94.02 1279.99 94.40 1280.46 94.80 1280.93 95.21 1281.41 95.64 1281.88 96.08 1282.35 96.54 1282.82 97.01 1283.30 97.51 1283.77 98.02 1284.24 98.54 1284.71 99.09 1285.19 99.65 1285.66 100.23 1286.13 100.83 1286.60 101.45 1287.08 102.09 1287.55 102.75 1288.02 103.43 1288.49 104.13 1288.96 104.85 1289.44 105.59 1289.91 106.35 1290.38 107.14 1290.85 107.95 1291.33 108.78 1291.80 109.63 1292.27 110.52 1292.74 111.42 1293.22 112.36 1293.69 113.32 1294.16 114.31 1294.63 115.33 1295.11 116.37 1295.58 117.45 1296.05 118.56 1296.52 119.70 1297.00 120.88 1297.47 122.09 1297.94 123.34 1298.41 124.63 1298.89 125.95 1299.36 127.32 1299.83 128.73 1300.30 130.19 1300.77 131.69 1301.25 133.24 1301.72 134.84 1302.19 136.50 1302.66 138.21 1303.14 139.99 1303.61 141.82 1304.08 143.73 1304.55 145.70 1305.03 147.75 1305.50 149.88 1305.97 152.10 1306.44 154.41 1306.92 156.81 1307.39 159.32 1307.86 161.95 1308.33 164.70 1308.81 167.58 1309.28 170.60 1309.75 173.79 1310.22 177.15 1310.70 180.70 1311.17 184.47 1311.64 188.47 1312.11 192.74 1312.58 197.30 1313.06 202.21 1313.53 207.50 1314.00 213.23 1314.47 219.47 1314.95 226.29 1315.42 233.78 1315.89 242.01 1316.36 251.02 1316.84 260.74 1317.31 270.76 1317.78 279.97 1318.25 286.18 1318.73 286.96 1319.20 281.94 1319.67 273.25 1320.14 263.29 1320.62 253.44 1321.09 244.23 1321.56 235.80 1322.03 228.13 1322.51 221.15 1322.98 214.77 1323.45 208.92 1323.92 203.52 1324.39 198.52 1324.87 193.87 1325.34 189.53 1325.81 185.46 1326.28 181.64 1326.76 178.03 1327.23 174.63 1327.70 171.40 1328.17 168.33 1328.65 165.42 1329.12 162.64 1329.59 159.98 1330.06 157.44 1330.54 155.01 1331.01 152.68 1331.48 150.44 1331.95 148.29 1332.43 146.22 1332.90 144.22 1333.37 142.30 1333.84 140.45 1334.32 138.66 1334.79 136.93 1335.26 135.26 1335.73 133.64 1336.20 132.08 1336.68 130.56 1337.15 129.10 1337.62 127.68 1338.09 126.30 1338.57 124.96 1339.04 123.66 1339.51 122.41 1339.98 121.19 1340.46 120.00 1340.93 118.85 1341.40 117.73 1341.87 116.64 1342.35 115.59 1342.82 114.56 1343.29 113.57 1343.76 112.60 1344.24 111.66 1344.71 110.75 1345.18 109.86 1345.65 108.99 1346.13 108.16 1346.60 107.34 1347.07 106.55 1347.54 105.78 1348.01 105.03 1348.49 104.31 1348.96 103.60 1349.43 102.92 1349.90 102.26 1350.38 101.61 1350.85 100.99 1351.32 100.38 1351.79 99.80 1352.27 99.23 1352.74 98.68 1353.21 98.15 1353.68 97.64 1354.16 97.14 1354.63 96.66 1355.10 96.19 1355.57 95.75 1356.05 95.32 1356.52 94.90 1356.99 94.50 1357.46 94.12 1357.94 93.75 1358.41 93.40 1358.88 93.06 1359.35 92.74 1359.82 92.43 1360.30 92.14 1360.77 91.86 1361.24 91.59 1361.71 91.34 1362.19 91.11 1362.66 90.89 1363.13 90.68 1363.60 90.48 1364.08 90.30 1364.55 90.14 1365.02 89.99 1365.49 89.85 1365.97 89.72 1366.44 89.61 1366.91 89.51 1367.38 89.42 1367.86 89.35 1368.33 89.29 1368.80 89.25 1369.27 89.21 1369.75 89.20 1370.22 89.19 1370.69 89.20 1371.16 89.22 1371.63 89.25 1372.11 89.30 1372.58 89.36 1373.05 89.43 1373.52 89.52 1374.00 89.62 1374.47 89.74 1374.94 89.86 1375.41 90.00 1375.89 90.16 1376.36 90.33 1376.83 90.51 1377.30 90.70 1377.78 90.91 1378.25 91.14 1378.72 91.38 1379.19 91.63 1379.67 91.89 1380.14 92.17 1380.61 92.47 1381.08 92.78 1381.56 93.10 1382.03 93.44 1382.50 93.80" fill="none" stroke="#231f20" stroke-width="3.2" stroke-linejoin="round"/>
<polygon points="282.5,256.5 289.0,256.5 285.8,301.5" fill="#231f20"/>
<polygon points="385.8,247.5 392.3,247.5 389.1,292.5" fill="#231f20"/>
<polygon points="489.1,256.5 495.6,256.5 492.3,301.5" fill="#231f20"/>
<polygon points="592.4,260.5 598.9,260.5 595.6,305.5" fill="#231f20"/>
<polygon points="695.6,250.5 702.1,250.5 698.9,295.5" fill="#231f20"/>
<polygon points="798.9,249.0 805.4,249.0 802.2,294.0" fill="#231f20"/>
<polygon points="902.2,249.0 908.7,249.0 905.4,294.0" fill="#231f20"/>
<polygon points="1005.5,262.2 1012.0,262.2 1008.7,307.2" fill="#231f20"/>
<polygon points="1108.7,253.1 1115.2,253.1 1112.0,298.1" fill="#231f20"/>
<polygon points="1212.0,251.9 1218.5,251.9 1215.3,296.9" fill="#231f20"/>
<polygon points="1315.3,251.9 1321.8,251.9 1318.5,296.9" fill="#231f20"/>
<clipPath id="c2"><rect x="201.5" y="437.4" width="1181.0" height="295.0"/></clipPath>
<path clip-path="url(#c2)" d="M196.95 501.14L202.22 498.70 207.49 498.00 212.76 498.89 218.03 501.46 223.30 505.90 228.57 512.61 233.85 522.22 239.12 535.79 244.39 555.11 249.66 583.45 254.93 626.48 260.20 667.20 265.38 626.60 270.56 583.79 275.74 555.66 280.92 536.55 286.10 523.18 291.28 513.77 296.46 507.26 301.64 503.01 306.82 500.64 312.00 499.94 317.18 500.76 322.36 503.25 327.54 507.60 332.72 514.21 337.90 523.70 343.08 537.10 348.26 556.13 353.44 583.87 358.62 625.00 363.80 661.40 369.03 625.03 374.25 583.96 379.48 556.28 384.70 537.31 389.93 523.96 395.15 514.53 400.38 507.98 405.60 503.68 410.83 501.25 416.05 500.48 421.28 501.31 426.50 503.79 431.73 508.13 436.95 514.72 442.18 524.18 447.40 537.52 452.63 556.44 457.85 583.89 463.08 624.04 468.30 658.40 473.55 624.07 478.79 583.98 484.04 556.59 489.28 537.73 494.53 524.45 499.77 515.04 505.02 508.51 510.26 504.22 515.51 501.80 520.75 501.03 526.00 501.85 531.24 504.33 536.49 508.66 541.73 515.23 546.98 524.66 552.22 537.95 557.47 556.77 562.71 583.93 567.96 623.20 573.20 655.80 578.49 623.23 583.77 584.03 589.06 556.92 594.34 538.17 599.63 524.93 604.91 515.56 610.20 509.04 615.48 504.77 620.77 502.35 626.05 501.58 631.34 502.40 636.62 504.87 641.91 509.19 647.19 515.74 652.48 525.13 657.76 538.34 663.05 557.00 668.33 583.78 673.62 621.83 678.90 652.20 684.16 621.85 689.41 583.87 694.67 557.15 699.92 538.55 705.18 525.40 710.43 516.06 715.69 509.57 720.94 505.31 726.20 502.90 731.45 502.13 736.71 502.95 741.96 505.40 747.22 509.70 752.47 516.20 757.73 525.52 762.98 538.60 768.24 556.97 773.49 583.07 778.75 619.08 784.00 646.10 789.24 619.11 794.48 583.16 799.72 557.12 804.96 538.81 810.20 525.78 815.44 516.53 820.68 510.08 825.92 505.84 831.16 503.44 836.40 502.68 841.64 503.51 846.88 505.99 852.12 510.31 857.36 516.82 862.60 526.12 867.84 539.14 873.08 557.36 878.32 583.03 883.56 617.75 888.80 642.80 894.09 617.81 899.37 583.23 904.66 557.71 909.94 539.63 915.23 526.74 920.51 517.58 925.80 511.20 931.08 507.02 936.37 504.66 941.65 503.94 946.94 504.78 952.22 507.22 957.51 511.49 962.79 517.94 968.08 527.15 973.36 540.03 978.65 557.98 983.93 583.07 989.22 616.24 994.50 639.20 999.83 616.28 1005.15 583.19 1010.48 558.19 1015.80 540.33 1021.13 527.53 1026.45 518.41 1031.78 512.04 1037.10 507.86 1042.43 505.49 1047.75 504.75 1053.08 505.53 1058.40 507.92 1063.73 512.12 1069.05 518.49 1074.38 527.59 1079.70 540.32 1085.03 558.02 1090.35 582.58 1095.68 614.50 1101.00 635.90 1106.29 614.50 1111.57 582.56 1116.86 557.98 1122.14 540.26 1127.43 527.52 1132.71 518.39 1138.00 512.01 1143.28 507.79 1148.57 505.39 1153.85 504.60 1159.14 505.37 1164.42 507.76 1169.71 511.95 1174.99 518.30 1180.28 527.37 1185.56 540.04 1190.85 557.64 1196.13 581.96 1201.42 613.26 1206.70 633.90 1212.09 613.25 1217.47 581.93 1222.86 557.59 1228.24 539.98 1233.63 527.29 1239.01 518.20 1244.40 511.84 1249.78 507.63 1255.17 505.23 1260.55 504.45 1265.94 505.22 1271.32 507.60 1276.71 511.79 1282.09 518.14 1287.48 527.22 1292.86 539.89 1298.25 557.50 1303.63 581.84 1309.02 613.19 1314.40 633.90 1319.67 613.19 1324.94 581.82 1330.21 557.46 1335.48 539.84 1340.76 527.14 1346.03 518.05 1351.30 511.68 1356.57 507.47 1361.84 505.07 1367.11 504.29 1372.38 505.06 1377.65 507.44 1382.92 511.63" fill="none" stroke="#de262b" stroke-width="3.2" stroke-linejoin="round"/>
<clipPath id="c3"><rect x="201.5" y="866.5" width="1181.0" height="295.9000000000001"/></clipPath>
<path clip-path="url(#c3)" d="M201.5 969.6L201.7 962.4 202.0 958.7 202.2 957.6 202.4 958.1 202.7 962.0 202.9 967.4 203.2 975.9 203.4 990.9 203.6 1009.9 203.9 1036.3 204.1 1071.9 204.3 1081.8 204.6 1070.5 204.8 1064.0 205.0 1045.5 205.3 1022.3 205.5 1000.7 205.8 986.2 206.0 974.2 206.2 966.5 206.5 960.1 206.7 958.5 206.9 957.2 207.2 959.9 207.4 965.5 207.6 975.8 207.9 986.4 208.1 1003.2 208.3 1027.4 208.6 1064.4 208.8 1081.0 209.1 1067.2 209.3 1062.0 209.5 1051.5 209.8 1031.5 210.0 1008.3 210.2 989.9 210.5 978.0 210.7 968.2 210.9 961.8 211.2 958.4 211.4 958.5 211.7 959.1 211.9 962.4 212.1 972.1 212.4 980.9 212.6 997.0 212.8 1019.6 213.1 1049.2 213.3 1077.3 213.5 1066.7 213.8 1057.4 214.0 1055.3 214.3 1040.5 214.5 1017.1 214.7 997.8 215.0 982.3 215.2 970.8 215.4 965.0 215.7 959.7 215.9 958.4 216.1 958.6 216.4 962.9 216.6 968.6 216.9 977.8 217.1 990.7 217.3 1010.1 217.6 1041.0 217.8 1074.9 218.0 1065.8 218.3 1055.9 218.5 1052.1 218.7 1047.4 219.0 1027.0 219.2 1005.8 219.5 989.5 219.7 976.9 219.9 967.9 220.2 960.7 220.4 959.3 220.6 958.8 220.9 960.6 221.1 965.9 221.3 974.2 221.6 987.1 221.8 1003.5 222.0 1029.4 222.3 1063.5 222.5 1067.2 222.8 1051.2 223.0 1046.6 223.2 1047.9 223.5 1037.2 223.7 1016.5 223.9 996.6 224.2 983.5 224.4 971.6 224.6 966.0 224.9 962.1 225.1 959.2 225.4 960.8 225.6 963.8 225.8 969.0 226.1 982.0 226.3 997.1 226.5 1018.6 226.8 1051.0 227.0 1068.8 227.2 1051.8 227.5 1042.6 227.7 1043.5 228.0 1044.3 228.2 1027.7 228.4 1006.5 228.7 990.4 228.9 976.8 229.1 968.9 229.4 961.9 229.6 959.8 229.8 959.8 230.1 963.0 230.3 968.2 230.6 978.6 230.8 991.1 231.0 1009.3 231.3 1040.1 231.5 1067.0 231.7 1055.1 232.0 1039.6 232.2 1038.5 232.4 1041.6 232.7 1036.4 232.9 1018.7 233.2 997.2 233.4 982.2 233.6 972.8 233.9 965.9 234.1 961.7 234.3 961.0 234.6 960.7 234.8 966.2 235.0 973.3 235.3 985.2 235.5 1001.6 235.7 1027.1 236.0 1058.6 236.2 1057.3 236.5 1039.1 236.7 1033.7 236.9 1036.7 237.2 1040.1 237.4 1029.3 237.6 1008.7 237.9 991.7 238.1 978.8 238.3 970.7 238.6 964.6 238.8 959.9 239.1 961.9 239.3 965.0 239.5 969.8 239.8 978.4 240.0 994.9 240.2 1015.0 240.5 1046.8 240.7 1062.8 240.9 1041.4 241.2 1030.4 241.4 1029.2 241.7 1035.4 241.9 1035.6 242.1 1021.1 242.4 1001.3 242.6 986.7 242.8 975.8 243.1 966.3 243.3 963.5 243.5 961.5 243.8 963.2 244.0 967.9 244.3 975.6 244.5 986.6 244.7 1005.1 245.0 1031.7 245.2 1060.4 245.4 1045.4 245.7 1029.9 245.9 1024.6 246.1 1028.2 246.4 1035.4 246.6 1030.3 246.9 1012.1 247.1 995.1 247.3 980.9 247.6 971.3 247.8 965.3 248.0 962.2 248.3 963.3 248.5 964.5 248.7 972.7 249.0 980.8 249.2 995.9 249.4 1018.1 249.7 1049.7 249.9 1052.3 250.2 1033.3 250.4 1023.8 250.6 1020.6 250.9 1027.7 251.1 1033.5 251.3 1024.1 251.6 1007.6 251.8 991.6 252.0 977.7 252.3 969.9 252.5 965.4 252.8 963.5 253.0 965.4 253.2 970.2 253.5 976.9 253.7 989.7 253.9 1008.7 254.2 1035.5 254.4 1058.6 254.6 1038.0 254.9 1023.3 255.1 1017.6 255.4 1019.9 255.6 1027.6 255.8 1031.3 256.1 1019.5 256.3 1000.2 256.5 985.4 256.8 973.7 257.0 969.7 257.2 964.4 257.5 964.7 257.7 967.2 258.0 974.2 258.2 983.1 258.4 997.3 258.7 1021.3 258.9 1051.7 259.1 1046.9 259.4 1024.7 259.6 1015.3 259.8 1015.1 260.1 1018.2 260.3 1028.7 260.5 1030.7 260.8 1013.5 261.0 994.7 261.3 982.4 261.5 974.4 261.7 968.7 262.0 964.7 262.2 966.3 262.4 970.3 262.7 977.9 262.9 989.9 263.1 1007.9 263.4 1036.9 263.6 1055.0 263.9 1032.8 264.1 1015.8 264.3 1010.4 264.6 1009.9 264.8 1018.8 265.0 1027.3 265.3 1024.7 265.5 1009.2 265.7 990.5 266.0 978.8 266.2 972.6 266.5 967.2 266.7 966.4 266.9 970.8 267.2 973.9 267.4 983.4 267.6 998.2 267.9 1022.5 268.1 1052.0 268.3 1042.1 268.6 1019.2 268.8 1009.0 269.1 1006.1 269.3 1007.9 269.5 1018.4 269.8 1027.3 270.0 1022.5 270.2 1002.6 270.5 988.1 270.7 977.4 270.9 971.0 271.2 968.2 271.4 968.1 271.7 971.7 271.9 978.6 272.1 989.9 272.4 1007.0 272.6 1036.2 272.8 1051.4 273.1 1028.2 273.3 1011.9 273.5 1002.7 273.8 1002.8 274.0 1008.1 274.2 1018.6 274.5 1027.1 274.7 1017.2 275.0 999.5 275.2 986.7 275.4 977.2 275.7 971.6 275.9 969.1 276.1 971.6 276.4 975.1 276.6 984.2 276.8 996.8 277.1 1020.6 277.3 1049.4 277.6 1038.1 277.8 1017.0 278.0 1005.0 278.3 999.6 278.5 1000.9 278.7 1008.4 279.0 1018.4 279.2 1023.4 279.4 1014.1 279.7 997.6 279.9 985.6 280.2 976.0 280.4 972.7 280.6 971.4 280.9 971.8 281.1 979.5 281.3 988.4 281.6 1005.2 281.8 1033.2 282.0 1050.8 282.3 1024.8 282.5 1008.4 282.8 999.6 283.0 997.6 283.2 999.3 283.5 1006.2 283.7 1018.5 283.9 1024.5 284.2 1011.8 284.4 995.7 284.6 983.3 284.9 976.3 285.1 972.3 285.4 972.1 285.6 975.9 285.8 983.2 286.1 995.8 286.3 1016.8 286.5 1045.7 286.8 1038.4 287.0 1015.1 287.2 1001.4 287.5 996.1 287.7 993.5 287.9 999.6 288.2 1008.3 288.4 1018.7 288.7 1021.6 288.9 1008.9 289.1 995.1 289.4 983.2 289.6 976.9 289.8 973.1 290.1 972.6 290.3 978.9 290.5 988.8 290.8 1004.5 291.0 1028.4 291.3 1051.2 291.5 1028.3 291.7 1007.0 292.0 996.8 292.2 990.3 292.4 990.7 292.7 996.0 292.9 1007.5 293.1 1019.2 293.4 1021.2 293.6 1007.3 293.9 992.9 294.1 983.8 294.3 978.2 294.6 974.4 294.8 977.1 295.0 982.7 295.3 993.0 295.5 1013.5 295.7 1041.1 296.0 1042.8 296.2 1016.6 296.5 1000.5 296.7 990.5 296.9 988.0 297.2 990.6 297.4 996.7 297.6 1006.3 297.9 1019.4 298.1 1021.5 298.3 1004.6 298.6 991.6 298.8 981.8 299.1 978.2 299.3 977.1 299.5 980.6 299.8 984.9 300.0 1000.2 300.2 1020.5 300.5 1049.6 300.7 1031.9 300.9 1009.7 301.2 994.8 301.4 986.7 301.6 986.5 301.9 987.1 302.1 994.8 302.4 1007.7 302.6 1020.3 302.8 1019.3 303.1 1005.1 303.3 992.4 303.5 984.1 303.8 979.4 304.0 979.8 304.2 983.9 304.5 991.6 304.7 1006.2 305.0 1033.3 305.2 1048.1 305.4 1021.9 305.7 1002.1 305.9 989.1 306.1 984.6 306.4 981.9 306.6 987.0 306.8 993.9 307.1 1006.8 307.3 1020.2 307.6 1018.2 307.8 1004.9 308.0 991.8 308.3 984.4 308.5 981.6 308.7 981.4 309.0 986.2 309.2 995.7 309.4 1015.1 309.7 1042.5 309.9 1041.5 310.2 1012.3 310.4 996.4 310.6 987.2 310.9 981.3 311.1 980.1 311.3 986.1 311.6 994.1 311.8 1006.8 312.0 1020.5 312.3 1018.5 312.5 1005.7 312.8 993.7 313.0 985.2 313.2 983.3 313.5 983.7 313.7 990.9 313.9 1003.0 314.2 1024.1 314.4 1047.8 314.6 1030.5 314.9 1005.4 315.1 990.7 315.3 982.2 315.6 978.6 315.8 977.6 316.1 984.4 316.3 993.6 316.5 1006.5 316.8 1020.8 317.0 1018.3 317.2 1005.4 317.5 995.1 317.7 988.4 317.9 985.2 318.2 985.9 318.4 996.4 318.7 1007.5 318.9 1032.3 319.1 1048.4 319.4 1022.4 319.6 999.9 319.8 987.9 320.1 980.1 320.3 975.3 320.5 976.8 320.8 982.5 321.0 992.0 321.3 1006.4 321.5 1019.8 321.7 1020.2 322.0 1007.2 322.2 996.0 322.4 990.2 322.7 987.5 322.9 990.2 323.1 997.5 323.4 1012.9 323.6 1040.5 323.9 1044.1 324.1 1014.2 324.3 995.4 324.6 983.8 324.8 976.8 325.0 975.2 325.3 975.2 325.5 980.9 325.7 989.9 326.0 1003.8 326.2 1019.5 326.4 1022.1 326.7 1009.2 326.9 998.3 327.2 991.3 327.4 990.0 327.6 994.7 327.9 1003.0 328.1 1022.1 328.3 1048.2 328.6 1036.1 328.8 1009.8 329.0 990.6 329.3 980.0 329.5 974.5 329.8 972.8 330.0 974.4 330.2 980.2 330.5 988.9 330.7 1003.0 330.9 1018.4 331.2 1023.3 331.4 1011.0 331.6 1000.0 331.9 994.0 332.1 993.2 332.4 996.6 332.6 1009.0 332.8 1027.3 333.1 1051.2 333.3 1028.2 333.5 1002.7 333.8 987.7 334.0 977.7 334.2 971.7 334.5 970.3 334.7 972.3 335.0 979.0 335.2 986.7 335.4 1000.0 335.7 1016.5 335.9 1023.3 336.1 1014.8 336.4 1001.9 336.6 996.7 336.8 997.8 337.1 1000.3 337.3 1013.6 337.6 1035.5 337.8 1051.7 338.0 1021.3 338.3 999.1 338.5 983.9 338.7 973.7 339.0 969.0 339.2 969.0 339.4 971.1 339.7 977.3 339.9 986.1 340.1 998.8 340.4 1015.8 340.6 1024.9 340.9 1015.6 341.1 1006.1 341.3 999.4 341.6 998.1 341.8 1003.7 342.0 1016.4 342.3 1040.8 342.5 1048.3 342.7 1016.9 343.0 996.2 343.2 982.9 343.5 972.6 343.7 968.5 343.9 967.1 344.2 970.7 344.4 974.9 344.6 984.2 344.9 997.6 345.1 1016.0 345.3 1026.3 345.6 1018.7 345.8 1008.3 346.1 1003.0 346.3 1002.0 346.5 1007.3 346.8 1024.3 347.0 1046.9 347.2 1043.6 347.5 1012.5 347.7 991.2 347.9 978.5 348.2 971.0 348.4 966.6 348.7 965.1 348.9 968.1 349.1 972.9 349.4 980.9 349.6 993.1 349.8 1012.0 350.1 1026.2 350.3 1022.6 350.5 1011.2 350.8 1005.9 351.0 1004.2 351.3 1012.2 351.5 1027.1 351.7 1052.0 352.0 1039.2 352.2 1009.0 352.4 991.4 352.7 978.3 352.9 969.4 353.1 965.9 353.4 965.5 353.6 965.3 353.8 970.7 354.1 979.2 354.3 992.5 354.6 1008.3 354.8 1025.9 355.0 1025.2 355.3 1016.8 355.5 1010.1 355.7 1008.4 356.0 1015.9 356.2 1030.9 356.4 1054.9 356.7 1037.1 356.9 1007.2 357.2 988.6 357.4 975.3 357.6 968.8 357.9 964.4 358.1 961.9 358.3 962.8 358.6 967.7 358.8 977.3 359.0 989.2 359.3 1004.7 359.5 1024.1 359.8 1030.2 360.0 1020.2 360.2 1012.8 360.5 1013.0 360.7 1020.3 360.9 1036.8 361.2 1057.6 361.4 1034.2 361.6 1005.4 361.9 986.8 362.1 974.4 362.4 967.4 362.6 962.4 362.8 962.2 363.1 963.3 363.3 968.3 363.5 974.2 363.8 986.5 364.0 1003.0 364.2 1021.4 364.5 1031.7 364.7 1024.3 365.0 1018.3 365.2 1016.6 365.4 1022.9 365.7 1037.8 365.9 1059.0 366.1 1031.7 366.4 1003.3 366.6 984.3 366.8 974.1 367.1 966.5 367.3 960.8 367.5 959.8 367.8 960.9 368.0 966.0 368.3 971.2 368.5 982.2 368.7 998.2 369.0 1017.3 369.2 1034.4 369.4 1028.9 369.7 1021.9 369.9 1019.4 370.1 1025.6 370.4 1043.9 370.6 1061.9 370.9 1030.5 371.1 1003.9 371.3 985.6 371.6 973.8 371.8 965.7 372.0 962.7 372.3 958.1 372.5 959.8 372.7 962.8 373.0 968.8 373.2 980.5 373.5 996.2 373.7 1014.2 373.9 1032.5 374.2 1034.4 374.4 1026.5 374.6 1025.4 374.9 1029.5 375.1 1048.1 375.3 1062.1 375.6 1030.4 375.8 1003.5 376.1 985.3 376.3 973.4 376.5 965.4 376.8 961.4 377.0 958.0 377.2 957.1 377.5 960.3 377.7 967.0 377.9 976.9 378.2 991.3 378.4 1007.5 378.6 1029.0 378.9 1037.6 379.1 1031.9 379.4 1028.3 379.6 1033.5 379.8 1050.1 380.1 1064.9 380.3 1031.5 380.5 1001.9 380.8 985.5 381.0 973.2 381.2 964.2 381.5 958.9 381.7 958.0 382.0 957.5 382.2 959.4 382.4 965.5 382.7 974.3 382.9 985.5 383.1 1004.1 383.4 1024.2 383.6 1039.7 383.8 1035.7 384.1 1034.6 384.3 1037.1 384.6 1053.1 384.8 1064.0 385.0 1031.9 385.3 1003.7 385.5 987.4 385.7 972.7 386.0 964.8 386.2 959.6 386.4 955.9 386.7 956.9 386.9 960.1 387.2 963.7 387.4 972.6 387.6 983.4 387.9 998.2 388.1 1018.8 388.3 1037.6 388.6 1042.7 388.8 1039.1 389.0 1040.9 389.3 1055.8 389.5 1069.7 389.8 1034.4 390.0 1007.0 390.2 988.9 390.5 973.4 390.7 964.9 390.9 958.6 391.2 955.6 391.4 954.5 391.6 956.8 391.9 960.2 392.1 968.1 392.3 978.6 392.6 993.1 392.8 1013.8 393.1 1035.0 393.3 1046.7 393.5 1043.2 393.8 1045.2 394.0 1056.3 394.2 1071.8 394.5 1039.7 394.7 1010.4 394.9 989.2 395.2 975.2 395.4 966.0 395.7 958.9 395.9 955.8 396.1 953.7 396.4 956.0 396.6 959.2 396.8 964.8 397.1 973.1 397.3 989.2 397.5 1006.7 397.8 1029.3 398.0 1046.2 398.3 1049.5 398.5 1049.8 398.7 1060.5 399.0 1073.0 399.2 1044.1 399.4 1012.5 399.7 992.9 399.9 977.7 400.1 966.6 400.4 959.2 400.6 955.2 400.9 954.8 401.1 954.5 401.3 956.6 401.6 962.5 401.8 971.6 402.0 984.3 402.3 999.3 402.5 1021.8 402.7 1045.2 403.0 1055.1 403.2 1053.2 403.5 1061.7 403.7 1077.9 403.9 1048.4 404.2 1015.4 404.4 994.6 404.6 978.7 404.9 965.5 405.1 959.3 405.3 955.5 405.6 952.9 405.8 952.7 406.0 954.4 406.3 960.7 406.5 969.4 406.8 979.2 407.0 993.8 407.2 1013.4 407.5 1037.0 407.7 1056.3 407.9 1059.2 408.2 1067.4 408.4 1079.2 408.6 1054.1 408.9 1020.5 409.1 997.3 409.4 981.0 409.6 967.8 409.8 961.7 410.1 955.6 410.3 952.2 410.5 951.4 410.8 954.2 411.0 957.7 411.2 965.0 411.5 974.4 411.7 988.0 412.0 1006.9 412.2 1029.2 412.4 1051.7 412.7 1064.5 412.9 1070.6 413.1 1081.9 413.4 1064.0 413.6 1027.2 413.8 1002.8 414.1 983.3 414.3 969.6 414.6 960.7 414.8 956.3 415.0 952.0 415.3 951.3 415.5 952.4 415.7 954.6 416.0 962.8 416.2 969.5 416.4 982.5 416.7 997.6 416.9 1020.0 417.2 1046.4 417.4 1066.3 417.6 1074.0 417.9 1087.9 418.1 1074.0 418.3 1035.1 418.6 1009.0 418.8 987.4 419.0 973.6 419.3 964.1 419.5 957.2 419.7 952.1 420.0 951.3 420.2 951.9 420.5 954.0 420.7 957.9 420.9 967.7 421.2 976.3 421.4 992.4 421.6 1012.1 421.9 1035.2 422.1 1063.7 422.3 1079.4 422.6 1091.0 422.8 1082.4 423.1 1042.7 423.3 1014.1 423.5 992.4 423.8 977.0 424.0 967.1 424.2 958.4 424.5 953.6 424.7 951.3 424.9 950.9 425.2 952.2 425.4 956.3 425.7 963.5 425.9 972.8 426.1 984.5 426.4 1002.6 426.6 1025.1 426.8 1052.9 427.1 1078.6 427.3 1087.2 427.5 1095.3 427.8 1053.7 428.0 1021.8 428.3 996.9 428.5 980.3 428.7 971.1 429.0 961.5 429.2 954.2 429.4 950.6 429.7 949.4 429.9 951.0 430.1 953.8 430.4 959.2 430.6 968.1 430.9 978.7 431.1 996.7 431.3 1014.9 431.6 1042.0 431.8 1071.5 432.0 1094.9 432.3 1105.9 432.5 1066.2 432.7 1031.3 433.0 1006.0 433.2 988.0 433.4 973.2 433.7 962.9 433.9 955.5 434.2 952.0 434.4 949.0 434.6 949.9 434.9 952.3 435.1 956.4 435.3 963.2 435.6 974.4 435.8 987.9 436.0 1005.9 436.3 1030.0 436.5 1061.5 436.8 1091.9 437.0 1104.2 437.2 1083.7 437.5 1042.6 437.7 1013.2 437.9 992.4 438.2 978.0 438.4 964.9 438.6 958.2 438.9 951.7 439.1 949.4 439.4 949.9 439.6 951.0 439.8 954.0 440.1 960.4 440.3 969.1 440.5 981.4 440.8 998.6 441.0 1018.8 441.2 1048.4 441.5 1081.9 441.7 1106.0 442.0 1102.9 442.2 1055.8 442.4 1023.2 442.7 1001.2 442.9 984.6 443.1 971.4 443.4 963.0 443.6 955.7 443.8 949.6 444.1 950.0 444.3 949.1 444.5 953.4 444.8 957.0 445.0 964.9 445.3 975.2 445.5 988.8 445.7 1006.6 446.0 1033.1 446.2 1066.6 446.4 1106.6 446.7 1116.0 446.9 1073.6 447.1 1034.6 447.4 1009.0 447.6 988.4 447.9 977.1 448.1 965.1 448.3 956.6 448.6 952.5 448.8 950.2 449.0 949.2 449.3 951.7 449.5 954.4 449.7 958.8 450.0 968.8 450.2 982.9 450.5 999.0 450.7 1020.8 450.9 1049.5 451.2 1089.6 451.4 1117.3 451.6 1091.6 451.9 1049.3 452.1 1020.2 452.3 998.8 452.6 982.8 452.8 969.9 453.1 962.2 453.3 953.6 453.5 951.0 453.8 948.5 454.0 948.0 454.2 951.3 454.5 958.2 454.7 964.2 454.9 974.6 455.2 990.4 455.4 1009.7 455.7 1034.7 455.9 1071.8 456.1 1102.5 456.4 1113.9 456.6 1068.1 456.8 1033.2 457.1 1007.8 457.3 988.7 457.5 974.6 457.8 964.6 458.0 956.0 458.2 953.7 458.5 949.3 458.7 949.4 459.0 950.4 459.2 954.2 459.4 961.4 459.7 970.2 459.9 981.4 460.1 998.2 460.4 1021.3 460.6 1049.5 460.8 1087.9 461.1 1112.5 461.3 1086.8 461.6 1047.0 461.8 1019.1 462.0 997.7 462.3 981.7 462.5 969.9 462.7 960.7 463.0 954.7 463.2 949.8 463.4 949.1 463.7 949.7 463.9 953.0 464.2 957.1 464.4 965.3 464.6 975.3 464.9 988.5 465.1 1008.2 465.3 1034.0 465.6 1071.0 465.8 1111.4 466.0 1104.1 466.3 1068.7 466.5 1033.9 466.8 1009.7 467.0 988.8 467.2 975.6 467.5 965.6 467.7 957.8 467.9 952.8 468.2 949.3 468.4 949.4 468.6 949.4 468.9 954.7 469.1 962.1 469.4 969.7 469.6 982.8 469.8 997.6 470.1 1018.9 470.3 1050.4 470.5 1091.2 470.8 1112.1 471.0 1086.9 471.2 1051.1 471.5 1022.6 471.7 999.3 471.9 981.4 472.2 969.7 472.4 961.4 472.7 954.7 472.9 950.4 473.1 949.5 473.4 950.2 473.6 951.7 473.8 957.3 474.1 963.9 474.3 974.0 474.5 986.1 474.8 1007.5 475.0 1032.7 475.3 1070.9 475.5 1105.4 475.7 1099.9 476.0 1073.0 476.2 1039.8 476.4 1014.3 476.7 993.7 476.9 977.6 477.1 966.8 477.4 959.5 477.6 953.5 477.9 950.0 478.1 948.6 478.3 950.7 478.6 953.8 478.8 960.9 479.0 968.8 479.3 978.3 479.5 997.2 479.7 1017.5 480.0 1048.0 480.2 1092.4 480.5 1103.0 480.7 1087.7 480.9 1058.5 481.2 1028.5 481.4 1006.6 481.6 987.2 481.9 974.3 482.1 964.1 482.3 956.3 482.6 951.4 482.8 948.9 483.1 949.9 483.3 950.8 483.5 954.9 483.8 961.7 484.0 971.2 484.2 985.8 484.5 1003.8 484.7 1028.5 484.9 1067.2 485.2 1102.8 485.4 1091.6 485.6 1076.0 485.9 1049.3 486.1 1020.7 486.4 998.5 486.6 981.5 486.8 969.2 487.1 961.1 487.3 955.0 487.5 951.8 487.8 949.3 488.0 950.4 488.2 952.6 488.5 956.9 488.7 966.2 489.0 978.4 489.2 993.0 489.4 1014.3 489.7 1043.9 489.9 1083.7 490.1 1093.0 490.4 1081.4 490.6 1065.1 490.8 1037.7 491.1 1013.3 491.3 993.7 491.6 978.4 491.8 966.8 492.0 958.5 492.3 952.7 492.5 949.7 492.7 948.9 493.0 950.2 493.2 954.4 493.4 962.3 493.7 970.2 493.9 982.3 494.2 1000.0 494.4 1022.8 494.6 1058.1 494.9 1094.1 495.1 1078.4 495.3 1071.0 495.6 1057.4 495.8 1030.1 496.0 1006.1 496.3 988.3 496.5 976.9 496.7 965.3 497.0 957.9 497.2 953.7 497.5 950.4 497.7 949.5 497.9 953.0 498.2 958.0 498.4 962.5 498.6 974.6 498.9 989.3 499.1 1007.6 499.3 1035.4 499.6 1076.6 499.8 1082.7 500.1 1069.5 500.3 1065.8 500.5 1050.2 500.8 1024.0 501.0 1002.6 501.2 984.7 501.5 972.3 501.7 960.6 501.9 957.0 502.2 951.3 502.4 950.8 502.7 951.5 502.9 953.6 503.1 958.7 503.4 966.4 503.6 978.5 503.8 995.0 504.1 1017.2 504.3 1049.5 504.5 1081.8 504.8 1068.9 505.0 1061.0 505.3 1059.0 505.5 1043.4 505.7 1019.2 506.0 999.3 506.2 982.9 506.4 971.2 506.7 960.2 506.9 956.4 507.1 951.3 507.4 950.8 507.6 951.1 507.9 955.1 508.1 962.1 508.3 971.1 508.6 983.6 508.8 1001.2 509.0 1027.3 509.3 1064.8 509.5 1075.4 509.7 1061.0 510.0 1054.1 510.2 1055.9 510.4 1039.5 510.7 1014.4 510.9 994.9 511.2 979.0 511.4 969.7 511.6 959.6 511.9 955.7 512.1 951.9 512.3 951.8 512.6 955.8 512.8 958.5 513.0 964.5 513.3 973.4 513.5 988.5 513.8 1008.5 514.0 1039.4 514.2 1074.7 514.5 1063.1 514.7 1050.8 514.9 1050.2 515.2 1052.5 515.4 1034.5 515.6 1009.4 515.9 991.7 516.1 976.8 516.4 966.8 516.6 960.6 516.8 954.0 517.1 953.8 517.3 953.0 517.5 954.9 517.8 959.2 518.0 967.2 518.2 978.3 518.5 994.8 518.7 1017.9 519.0 1050.6 519.2 1074.0 519.4 1054.8 519.7 1045.3 519.9 1046.1 520.1 1049.5 520.4 1033.1 520.6 1010.3 520.8 990.2 521.1 976.1 521.3 964.8 521.6 960.7 521.8 955.7 522.0 952.6 522.3 954.0 522.5 956.9 522.7 960.7 523.0 970.8 523.2 983.6 523.4 1001.0 523.7 1025.4 523.9 1062.0 524.1 1065.3 524.4 1045.0 524.6 1037.6 524.9 1041.2 525.1 1045.6 525.3 1029.0 525.6 1006.7 525.8 990.4 526.0 975.8 526.3 965.6 526.5 959.8 526.7 957.2 527.0 954.2 527.2 954.3 527.5 957.0 527.7 966.1 527.9 971.5 528.2 987.8 528.4 1005.4 528.6 1034.3 528.9 1067.7 529.1 1052.7 529.3 1037.8 529.6 1032.3 529.8 1038.5 530.1 1044.2 530.3 1025.5 530.5 1005.3 530.8 986.6 531.0 975.8 531.2 964.5 531.5 958.2 531.7 954.7 531.9 954.9 532.2 957.2 532.4 960.2 532.7 968.5 532.9 978.1 533.1 991.2 533.4 1013.5 533.6 1045.6 533.8 1066.8 534.1 1041.7 534.3 1029.3 534.5 1028.7 534.8 1033.7 535.0 1040.6 535.3 1027.0 535.5 1004.5 535.7 988.7 536.0 975.1 536.2 966.9 536.4 959.8 536.7 955.3 536.9 956.4 537.1 957.3 537.4 962.5 537.6 969.9 537.8 980.9 538.1 994.6 538.3 1017.7 538.6 1054.6 538.8 1059.1 539.0 1034.5 539.3 1025.0 539.5 1023.7 539.7 1030.7 540.0 1037.6 540.2 1025.7 540.4 1005.7 540.7 988.1 540.9 976.5 541.2 966.6 541.4 961.6 541.6 957.5 541.9 957.7 542.1 958.8 542.3 963.2 542.6 972.5 542.8 983.7 543.0 1001.1 543.3 1026.0 543.5 1060.3 543.8 1048.0 544.0 1028.4 544.2 1018.6 544.5 1021.5 544.7 1026.4 544.9 1036.2 545.2 1028.6 545.4 1003.5 545.6 987.1 545.9 976.5 546.1 966.7 546.4 961.4 546.6 958.3 546.8 959.2 547.1 960.9 547.3 965.0 547.5 973.5 547.8 985.3 548.0 1004.9 548.2 1032.1 548.5 1063.9 548.7 1039.7 549.0 1023.7 549.2 1016.3 549.4 1015.2 549.7 1024.7 549.9 1033.2 550.1 1026.9 550.4 1007.6 550.6 989.6 550.8 977.0 551.1 968.2 551.3 961.6 551.5 958.9 551.8 959.7 552.0 962.5 552.3 966.9 552.5 976.1 552.7 988.5 553.0 1007.4 553.2 1040.5 553.4 1059.4 553.7 1032.7 553.9 1017.6 554.1 1011.8 554.4 1013.3 554.6 1020.6 554.9 1031.3 555.1 1027.2 555.3 1008.8 555.6 990.9 555.8 978.8 556.0 967.6 556.3 962.9 556.5 959.1 556.7 959.9 557.0 962.0 557.2 969.1 557.5 977.6 557.7 990.2 557.9 1015.1 558.2 1046.7 558.4 1051.5 558.6 1025.9 558.9 1011.7 559.1 1006.1 559.3 1009.2 559.6 1016.0 559.8 1028.7 560.1 1029.1 560.3 1011.2 560.5 992.9 560.8 979.3 561.0 969.9 561.2 965.8 561.5 960.2 561.7 960.9 561.9 964.1 562.2 970.9 562.4 980.4 562.6 994.8 562.9 1018.1 563.1 1054.2 563.4 1045.2 563.6 1018.6 563.8 1009.6 564.1 1002.6 564.3 1004.6 564.5 1012.5 564.8 1023.4 565.0 1030.2 565.2 1013.4 565.5 994.0 565.7 981.6 566.0 972.4 566.2 966.0 566.4 963.6 566.7 962.0 566.9 966.9 567.1 971.6 567.4 983.4 567.6 997.4 567.8 1022.7 568.1 1058.3 568.3 1039.9 568.6 1017.3 568.8 1004.8 569.0 998.6 569.3 1002.2 569.5 1009.2 569.7 1019.3 570.0 1028.9 570.2 1015.5 570.4 997.9 570.7 984.6 570.9 974.0 571.2 966.8 571.4 964.0 571.6 964.7 571.9 967.6 572.1 973.9 572.3 984.6 572.6 998.8 572.8 1026.3 573.0 1058.1 573.3 1035.1 573.5 1011.9 573.8 1000.5 574.0 996.7 574.2 998.2 574.5 1004.2 574.7 1017.4 574.9 1028.6 575.2 1019.5 575.4 1002.2 575.6 986.4 575.9 975.3 576.1 969.2 576.3 966.5 576.6 964.5 576.8 968.5 577.1 975.6 577.3 985.2 577.5 1002.1 577.8 1030.3 578.0 1056.2 578.2 1030.3 578.5 1010.7 578.7 998.1 578.9 993.7 579.2 994.6 579.4 1001.4 579.7 1011.6 579.9 1024.9 580.1 1023.4 580.4 1007.0 580.6 989.6 580.8 980.0 581.1 972.1 581.3 967.2 581.5 968.4 581.8 970.9 582.0 975.8 582.3 987.6 582.5 1004.6 582.7 1032.0 583.0 1054.4 583.2 1028.6 583.4 1006.9 583.7 996.0 583.9 991.5 584.1 991.6 584.4 996.7 584.6 1006.0 584.9 1021.4 585.1 1025.8 585.3 1010.5 585.6 994.7 585.8 982.0 586.0 973.0 586.3 970.0 586.5 970.0 586.7 972.0 587.0 978.7 587.2 988.3 587.5 1005.1 587.7 1034.9 587.9 1054.2 588.2 1023.1 588.4 1004.3 588.6 992.7 588.9 988.7 589.1 988.3 589.3 992.5 589.6 999.6 589.8 1015.8 590.0 1026.7 590.3 1016.5 590.5 998.9 590.8 985.1 591.0 977.0 591.2 970.8 591.5 971.1 591.7 972.2 591.9 979.0 592.2 989.2 592.4 1008.1 592.6 1035.7 592.9 1052.6 593.1 1022.4 593.4 1003.7 593.6 990.0 593.8 985.7 594.1 985.0 594.3 988.4 594.5 996.6 594.8 1009.3 595.0 1025.1 595.2 1021.9 595.5 1004.0 595.7 989.8 596.0 980.7 596.2 975.4 596.4 973.9 596.7 974.9 596.9 979.4 597.1 991.4 597.4 1006.4 597.6 1035.4 597.8 1052.5 598.1 1020.4 598.3 1001.7 598.6 990.4 598.8 984.2 599.0 982.1 599.3 984.8 599.5 992.1 599.7 1003.6 600.0 1021.0 600.2 1024.3 600.4 1011.5 600.7 995.3 600.9 984.4 601.2 978.7 601.4 976.4 601.6 977.3 601.9 981.5 602.1 990.7 602.3 1007.4 602.6 1036.9 602.8 1052.3 603.0 1021.3 603.3 999.2 603.5 989.2 603.7 980.2 604.0 979.6 604.2 981.8 604.5 986.8 604.7 996.9 604.9 1012.8 605.2 1024.7 605.4 1016.8 605.6 999.6 605.9 987.4 606.1 981.1 606.3 976.5 606.6 978.0 606.8 982.5 607.1 992.5 607.3 1008.1 607.5 1034.7 607.8 1053.5 608.0 1020.2 608.2 998.8 608.5 986.3 608.7 981.3 608.9 976.9 609.2 977.4 609.4 983.4 609.7 991.9 609.9 1007.9 610.1 1021.6 610.4 1023.5 610.6 1006.7 610.8 995.2 611.1 984.4 611.3 980.8 611.5 979.6 611.8 984.7 612.0 993.0 612.3 1006.0 612.5 1035.1 612.7 1054.1 613.0 1021.8 613.2 999.9 613.4 984.8 613.7 976.8 613.9 975.3 614.1 976.3 614.4 977.8 614.6 985.6 614.8 998.1 615.1 1014.6 615.3 1026.6 615.6 1015.3 615.8 1001.1 616.0 990.8 616.3 983.2 616.5 983.2 616.7 983.7 617.0 993.2 617.2 1008.1 617.4 1032.4 617.7 1053.1 617.9 1023.0 618.2 1000.6 618.4 985.2 618.6 976.0 618.9 973.3 619.1 972.9 619.3 974.2 619.6 981.3 619.8 992.9 620.0 1007.7 620.3 1024.4 620.5 1022.3 620.8 1007.3 621.0 994.2 621.2 987.4 621.5 986.7 621.7 986.9 621.9 993.2 622.2 1006.8 622.4 1030.3 622.6 1056.8 622.9 1026.9 623.1 1000.2 623.4 986.6 623.6 978.3 623.8 970.7 624.1 970.6 624.3 972.0 624.5 978.0 624.8 986.8 625.0 1000.2 625.2 1017.2 625.5 1026.6 625.7 1017.6 626.0 1001.2 626.2 993.7 626.4 989.6 626.7 988.8 626.9 994.9 627.1 1008.0 627.4 1027.3 627.6 1057.7 627.8 1029.8 628.1 1002.8 628.3 985.4 628.5 976.7 628.8 969.7 629.0 968.7 629.3 967.9 629.5 973.3 629.7 980.4 630.0 990.1 630.2 1007.7 630.4 1024.9 630.7 1022.1 630.9 1009.4 631.1 999.2 631.4 992.1 631.6 992.8 631.9 995.1 632.1 1005.4 632.3 1026.7 632.6 1056.9 632.8 1034.9 633.0 1005.8 633.3 988.7 633.5 976.2 633.7 971.5 634.0 966.9 634.2 966.6 634.5 969.3 634.7 974.7 634.9 985.6 635.2 998.4 635.4 1017.4 635.6 1029.1 635.9 1019.8 636.1 1006.5 636.3 997.3 636.6 995.7 636.8 997.4 637.1 1005.3 637.3 1022.9 637.5 1052.2 637.8 1041.7 638.0 1010.6 638.2 989.3 638.5 977.3 638.7 968.9 638.9 965.5 639.2 963.3 639.4 965.2 639.7 969.9 639.9 978.0 640.1 990.1 640.4 1007.0 640.6 1025.3 640.8 1026.4 641.1 1014.4 641.3 1002.2 641.5 998.9 641.8 998.7 642.0 1006.3 642.2 1021.6 642.5 1047.7 642.7 1049.3 643.0 1015.9 643.2 993.6 643.4 979.4 643.7 968.5 643.9 964.7 644.1 961.9 644.4 964.0 644.6 966.2 644.8 972.4 645.1 981.4 645.3 997.8 645.6 1015.7 645.8 1030.3 646.0 1024.4 646.3 1011.1 646.5 1004.0 646.7 1004.2 647.0 1006.5 647.2 1019.0 647.4 1044.6 647.7 1058.0 647.9 1020.2 648.2 996.7 648.4 980.6 648.6 970.1 648.9 965.3 649.1 960.9 649.3 961.2 649.6 963.2 649.8 968.2 650.0 976.3 650.3 987.4 650.5 1005.0 650.8 1024.9 651.0 1031.8 651.2 1020.0 651.5 1010.9 651.7 1006.5 651.9 1008.5 652.2 1018.6 652.4 1039.2 652.6 1063.2 652.9 1028.1 653.1 1001.0 653.4 984.1 653.6 973.0 653.8 963.6 654.1 960.8 654.3 959.5 654.5 960.1 654.8 963.8 655.0 969.4 655.2 980.4 655.5 992.8 655.7 1014.2 655.9 1031.1 656.2 1030.9 656.4 1016.9 656.7 1011.6 656.9 1010.9 657.1 1016.9 657.4 1033.7 657.6 1063.4 657.8 1040.4 658.1 1009.6 658.3 988.5 658.5 975.5 658.8 966.8 659.0 961.6 659.3 958.7 659.5 958.8 659.7 960.1 660.0 964.3 660.2 975.1 660.4 985.3 660.7 1001.8 660.9 1021.7 661.1 1036.4 661.4 1028.4 661.6 1019.2 661.9 1014.1 662.1 1018.2 662.3 1031.4 662.6 1057.5 662.8 1052.5 663.0 1018.0 663.3 993.4 663.5 978.5 663.7 968.6 664.0 961.0 664.2 956.9 664.5 957.5 664.7 958.4 664.9 960.1 665.2 966.6 665.4 977.9 665.6 991.7 665.9 1009.5 666.1 1030.5 666.3 1038.5 666.6 1027.4 666.8 1021.4 667.1 1021.4 667.3 1028.6 667.5 1051.7 667.8 1065.0 668.0 1026.7 668.2 999.9 668.5 983.4 668.7 971.2 668.9 963.8 669.2 956.7 669.4 955.2 669.6 956.5 669.9 958.0 670.1 962.2 670.4 970.0 670.6 980.0 670.8 995.6 671.1 1017.4 671.3 1037.0 671.5 1038.6 671.8 1028.0 672.0 1024.3 672.2 1026.8 672.5 1045.2 672.7 1072.2 673.0 1040.9 673.2 1008.9 673.4 989.8 673.7 975.6 673.9 965.7 674.1 958.8 674.4 955.6 674.6 954.9 674.8 954.6 675.1 959.1 675.3 965.0 675.6 974.7 675.8 986.7 676.0 1002.6 676.3 1026.2 676.5 1042.1 676.7 1037.6 677.0 1031.1 677.2 1030.7 677.4 1042.4 677.7 1065.2 677.9 1055.6 678.2 1019.5 678.4 997.3 678.6 980.6 678.9 967.8 679.1 959.5 679.3 955.7 679.6 952.5 679.8 953.8 680.0 955.5 680.3 959.8 680.5 966.6 680.7 978.3 681.0 990.3 681.2 1008.8 681.5 1033.7 681.7 1046.9 681.9 1039.5 682.2 1035.9 682.4 1042.3 682.6 1058.5 682.9 1072.7 683.1 1033.7 683.3 1003.2 683.6 985.9 683.8 973.4 684.1 963.4 684.3 958.1 684.5 954.2 684.8 951.8 685.0 953.4 685.2 956.3 685.5 960.0 685.7 968.8 685.9 980.2 686.2 995.9 686.4 1016.5 686.7 1039.0 686.9 1048.8 687.1 1041.4 687.4 1043.1 687.6 1054.0 687.8 1079.1 688.1 1051.2 688.3 1016.0 688.5 992.7 688.8 978.9 689.0 967.2 689.3 959.8 689.5 955.0 689.7 952.7 690.0 951.2 690.2 954.3 690.4 956.7 690.7 963.1 690.9 972.8 691.1 985.6 691.4 1002.9 691.6 1022.4 691.9 1048.2 692.1 1050.8 692.3 1047.2 692.6 1052.5 692.8 1073.0 693.0 1071.0 693.3 1029.7 693.5 1004.6 693.7 985.6 694.0 971.3 694.2 962.5 694.4 954.7 694.7 952.7 694.9 950.0 695.2 951.8 695.4 951.6 695.6 958.5 695.9 966.9 696.1 975.4 696.3 989.1 696.6 1005.8 696.8 1031.4 697.0 1053.4 697.3 1055.9 697.5 1053.7 697.8 1066.0 698.0 1085.1 698.2 1049.9 698.5 1016.8 698.7 994.2 698.9 978.6 699.2 968.0 699.4 958.2 699.6 954.8 699.9 949.6 700.1 948.8 700.4 950.7 700.6 954.5 700.8 959.5 701.1 967.0 701.3 977.8 701.5 993.0 701.8 1012.3 702.0 1038.7 702.2 1059.2 702.5 1063.1 702.7 1064.3 703.0 1083.0 703.2 1074.9 703.4 1032.1 703.7 1005.1 703.9 989.0 704.1 973.1 704.4 964.4 704.6 955.4 704.8 949.7 705.1 949.7 705.3 949.0 705.6 951.0 705.8 954.4 706.0 960.3 706.3 968.6 706.5 982.4 706.7 996.4 707.0 1019.6 707.2 1045.1 707.4 1065.1 707.7 1068.7 707.9 1079.0 708.1 1095.6 708.4 1055.0 708.6 1020.3 708.9 996.2 709.1 981.8 709.3 968.3 709.6 959.4 709.8 953.4 710.0 949.7 710.3 947.2 710.5 948.3 710.7 950.4 711.0 955.2 711.2 961.0 711.5 973.5 711.7 983.8 711.9 1002.2 712.2 1024.8 712.4 1053.4 712.6 1074.2 712.9 1079.0 713.1 1094.6 713.3 1082.1 713.6 1040.4 713.8 1009.3 714.1 990.2 714.3 976.0 714.5 965.6 714.8 957.9 715.0 952.9 715.2 949.3 715.5 947.7 715.7 948.8 715.9 952.7 716.2 956.9 716.4 964.9 716.7 974.3 716.9 986.6 717.1 1005.8 717.4 1030.6 717.6 1061.1 717.8 1082.1 718.1 1092.2 718.3 1105.2 718.5 1065.5 718.8 1027.6 719.0 1003.3 719.3 984.9 719.5 970.7 719.7 962.6 720.0 955.3 720.2 951.1 720.4 947.2 720.7 948.2 720.9 949.7 721.1 953.3 721.4 959.0 721.6 965.5 721.8 974.8 722.1 992.1 722.3 1009.8 722.6 1035.8 722.8 1068.2 723.0 1090.9 723.3 1106.3 723.5 1098.0 723.7 1049.0 724.0 1020.3 724.2 996.4 724.4 980.3 724.7 969.0 724.9 959.5 725.2 952.6 725.4 949.1 725.6 946.9 725.9 946.6 726.1 950.6 726.3 951.7 726.6 957.2 726.8 966.8 727.0 978.4 727.3 995.6 727.5 1014.8 727.8 1042.4 728.0 1075.6 728.2 1100.6 728.5 1119.0 728.7 1082.2 728.9 1041.5 729.2 1012.0 729.4 991.8 729.6 977.6 729.9 966.4 730.1 956.1 730.4 952.9 730.6 949.1 730.8 947.4 731.1 946.1 731.3 947.6 731.5 953.4 731.8 960.8 732.0 969.7 732.2 980.6 732.5 998.3 732.7 1017.6 732.9 1046.2 733.2 1083.3 733.4 1114.4 733.7 1118.1 733.9 1067.5 734.1 1032.8 734.4 1005.6 734.6 988.3 734.8 974.7 735.1 963.6 735.3 956.2 735.5 951.6 735.8 948.9 736.0 947.2 736.3 945.9 736.5 948.2 736.7 953.9 737.0 960.5 737.2 971.4 737.4 983.8 737.7 1000.3 737.9 1023.7 738.1 1053.7 738.4 1092.0 738.6 1129.5 738.9 1108.5 739.1 1058.7 739.3 1026.0 739.6 1001.4 739.8 984.9 740.0 972.0 740.3 961.9 740.5 955.0 740.7 950.5 741.0 947.4 741.2 945.6 741.5 946.7 741.7 949.2 741.9 956.6 742.2 962.9 742.4 972.9 742.6 985.7 742.9 1003.7 743.1 1027.0 743.3 1058.0 743.6 1101.3 743.8 1139.6 744.1 1095.2 744.3 1050.9 744.5 1021.6 744.8 998.4 745.0 983.1 745.2 969.1 745.5 960.8 745.7 954.5 745.9 949.6 746.2 947.4 746.4 946.0 746.6 947.3 746.9 950.7 747.1 956.5 747.4 966.6 747.6 974.0 747.8 989.3 748.1 1005.7 748.3 1029.5 748.5 1064.1 748.8 1112.9 749.0 1138.1 749.2 1087.5 749.5 1047.0 749.7 1018.2 750.0 997.3 750.2 979.8 750.4 968.7 750.7 958.9 750.9 953.4 751.1 948.8 751.4 946.7 751.6 945.8 751.8 947.0 752.1 951.0 752.3 957.3 752.6 965.3 752.8 974.0 753.0 989.8 753.3 1008.6 753.5 1032.7 753.7 1069.1 754.0 1120.4 754.2 1126.6 754.4 1079.4 754.7 1042.6 754.9 1014.9 755.2 995.0 755.4 980.6 755.6 968.8 755.9 958.7 756.1 952.4 756.3 948.8 756.6 947.4 756.8 947.4 757.0 948.2 757.3 952.8 757.5 956.6 757.8 964.6 758.0 974.3 758.2 990.4 758.5 1011.1 758.7 1037.9 758.9 1078.3 759.2 1129.6 759.4 1117.9 759.6 1076.3 759.9 1040.2 760.1 1013.3 760.3 993.6 760.6 978.1 760.8 966.0 761.1 959.5 761.3 952.8 761.5 949.6 761.8 945.2 762.0 945.4 762.2 947.6 762.5 953.0 762.7 957.8 762.9 966.5 763.2 977.5 763.4 992.7 763.7 1012.1 763.9 1040.6 764.1 1080.6 764.4 1127.3 764.6 1110.3 764.8 1074.6 765.1 1040.0 765.3 1012.5 765.5 993.6 765.8 978.1 766.0 967.3 766.3 959.7 766.5 951.7 766.7 949.4 767.0 946.1 767.2 946.3 767.4 949.8 767.7 953.1 767.9 958.8 768.1 967.6 768.4 979.4 768.6 993.1 768.9 1014.5 769.1 1042.9 769.3 1087.1 769.6 1121.3 769.8 1103.4 770.0 1073.2 770.3 1039.3 770.5 1013.3 770.7 993.8 771.0 979.4 771.2 967.0 771.5 958.4 771.7 952.8 771.9 949.3 772.2 946.4 772.4 944.8 772.6 949.0 772.9 952.4 773.1 958.5 773.3 969.5 773.6 979.0 773.8 995.2 774.0 1014.6 774.3 1045.9 774.5 1091.8 774.8 1112.5 775.0 1095.2 775.2 1073.1 775.5 1040.9 775.7 1015.4 775.9 994.4 776.2 978.5 776.4 966.0 776.6 958.5 776.9 952.7 777.1 948.1 777.4 946.3 777.6 945.8 777.8 948.2 778.1 953.1 778.3 958.9 778.5 967.6 778.8 979.3 779.0 995.1 779.2 1017.4 779.5 1049.6 779.7 1095.2 780.0 1104.0 780.2 1087.0 780.4 1072.7 780.7 1044.4 780.9 1015.6 781.1 994.9 781.4 980.1 781.6 967.1 781.8 958.2 782.1 954.5 782.3 948.7 782.6 947.2 782.8 947.1 783.0 948.6 783.3 953.8 783.5 959.8 783.7 968.7 784.0 980.4 784.2 995.7 784.4 1018.7 784.7 1050.5 784.9 1095.8 785.2 1093.2 785.4 1080.1 785.6 1073.4 785.9 1046.7 786.1 1019.2 786.3 997.6 786.6 982.2 786.8 968.9 787.0 960.8 787.3 954.3 787.5 950.1 787.7 947.4 788.0 948.2 788.2 948.7 788.5 953.0 788.7 959.3 788.9 968.0 789.2 979.4 789.4 994.9 789.6 1017.2 789.9 1050.5 790.1 1095.8 790.3 1083.8 790.6 1071.8 790.8 1069.6 791.1 1051.3 791.3 1021.3 791.5 1000.3 791.8 984.8 792.0 971.5 792.2 962.7 792.5 953.6 792.7 950.5 792.9 949.9 793.2 947.8 793.4 950.2 793.7 952.0 793.9 960.3 794.1 969.8 794.4 979.6 794.6 995.8 794.8 1018.2 795.1 1053.1 795.3 1093.7 795.5 1075.5 795.8 1067.1 796.0 1064.4 796.3 1053.9 796.5 1025.1 796.7 1003.6 797.0 986.7 797.2 972.5 797.4 963.2 797.7 957.1 797.9 951.4 798.1 949.8 798.4 950.2 798.6 948.6 798.8 954.0 799.1 959.9 799.3 967.5 799.6 980.5 799.8 996.1 800.0 1017.8 800.3 1051.7 800.5 1091.4 800.7 1069.3 801.0 1058.9 801.2 1059.3 801.4 1055.4 801.7 1033.4 801.9 1008.3 802.2 990.7 802.4 975.1 802.6 965.3 802.9 958.2 803.1 954.2 803.3 950.2 803.6 950.0 803.8 950.0 804.0 953.9 804.3 960.0 804.5 966.6 804.8 978.1 805.0 994.7 805.2 1015.4 805.5 1050.5 805.7 1087.9 805.9 1064.4 806.2 1052.5 806.4 1053.2 806.6 1055.7 806.9 1037.4 807.1 1012.8 807.4 994.3 807.6 977.9 807.8 968.1 808.1 959.8 808.3 953.9 808.5 951.1 808.8 948.2 809.0 950.8 809.2 954.9 809.5 958.1 809.7 967.2 810.0 978.1 810.2 995.5 810.4 1014.1 810.7 1047.9 810.9 1084.3 811.1 1059.1 811.4 1044.8 811.6 1045.7 811.8 1050.9 812.1 1044.9 812.3 1020.8 812.5 998.3 812.8 982.7 813.0 972.1 813.3 962.1 813.5 956.5 813.7 953.3 814.0 950.7 814.2 951.8 814.4 955.4 814.7 959.8 814.9 964.9 815.1 978.1 815.4 991.5 815.6 1012.5 815.9 1045.5 816.1 1083.1 816.3 1056.2 816.6 1040.9 816.8 1038.2 817.0 1045.8 817.3 1048.2 817.5 1027.3 817.7 1004.5 818.0 987.4 818.2 975.1 818.5 964.7 818.7 958.3 818.9 953.4 819.2 953.1 819.4 952.0 819.6 954.4 819.9 959.6 820.1 965.5 820.3 975.8 820.6 990.4 820.8 1010.4 821.1 1043.8 821.3 1079.4 821.5 1053.0 821.8 1036.4 822.0 1031.8 822.2 1038.7 822.5 1047.0 822.7 1035.6 822.9 1012.5 823.2 991.7 823.4 978.4 823.7 969.0 823.9 960.2 824.1 956.6 824.4 954.5 824.6 950.8 824.8 954.3 825.1 958.0 825.3 964.6 825.5 973.1 825.8 988.0 826.0 1007.0 826.2 1039.5 826.5 1078.3 826.7 1050.6 827.0 1031.9 827.2 1026.8 827.4 1030.1 827.7 1039.5 827.9 1041.7 828.1 1020.2 828.4 999.7 828.6 983.7 828.8 971.9 829.1 962.9 829.3 957.7 829.6 954.3 829.8 954.8 830.0 954.6 830.3 956.6 830.5 964.8 830.7 973.4 831.0 985.4 831.2 1004.1 831.4 1033.5 831.7 1075.3 831.9 1051.1 832.2 1031.4 832.4 1023.3 832.6 1023.0 832.9 1031.8 833.1 1040.2 833.3 1027.9 833.6 1007.9 833.8 989.7 834.0 977.6 834.3 967.8 834.5 961.6 834.8 957.1 835.0 955.9 835.2 956.1 835.5 958.6 835.7 964.5 835.9 973.1 836.2 985.1 836.4 1001.2 836.6 1028.8 836.9 1068.7 837.1 1051.5 837.4 1029.1 837.6 1018.3 837.8 1018.7 838.1 1021.5 838.3 1033.6 838.5 1037.2 838.8 1019.1 839.0 997.6 839.2 984.1 839.5 972.2 839.7 963.3 839.9 958.9 840.2 956.9 840.4 955.6 840.7 959.4 840.9 962.9 841.1 971.0 841.4 982.5 841.6 997.8 841.8 1024.2 842.1 1061.7 842.3 1055.2 842.5 1026.6 842.8 1016.9 843.0 1012.0 843.3 1016.9 843.5 1026.7 843.7 1036.5 844.0 1027.6 844.2 1008.1 844.4 988.6 844.7 977.4 844.9 967.6 845.1 961.5 845.4 958.0 845.6 958.9 845.9 957.6 846.1 962.3 846.3 969.7 846.6 980.4 846.8 995.9 847.0 1018.8 847.3 1054.9 847.5 1058.8 847.7 1029.7 848.0 1014.6 848.2 1007.3 848.5 1009.8 848.7 1017.2 848.9 1028.1 849.2 1034.3 849.4 1017.8 849.6 998.5 849.9 984.3 850.1 973.4 850.3 965.6 850.6 961.0 850.8 958.7 851.0 959.1 851.3 962.3 851.5 968.1 851.8 978.2 852.0 992.8 852.2 1012.4 852.5 1047.1 852.7 1064.1 852.9 1031.1 853.2 1014.3 853.4 1006.4 853.6 1004.4 853.9 1008.8 854.1 1019.8 854.4 1031.9 854.6 1028.5 854.8 1009.2 855.1 990.8 855.3 976.7 855.5 970.0 855.8 962.9 856.0 959.8 856.2 959.3 856.5 963.3 856.7 965.8 857.0 975.3 857.2 987.8 857.4 1006.5 857.7 1036.4 857.9 1067.1 858.1 1034.8 858.4 1012.6 858.6 1004.1 858.8 1001.0 859.1 1001.6 859.3 1009.4 859.6 1022.1 859.8 1033.7 860.0 1019.3 860.3 1000.1 860.5 983.9 860.7 975.6 861.0 967.4 861.2 963.6 861.4 963.2 861.7 963.6 861.9 965.9 862.2 974.0 862.4 985.0 862.6 1000.3 862.9 1027.0 863.1 1065.2 863.3 1041.0 863.6 1015.5 863.8 1001.9 864.0 997.7 864.3 997.6 864.5 1001.2 864.7 1011.0 865.0 1027.7 865.2 1032.0 865.5 1013.4 865.7 995.1 865.9 981.3 866.2 971.8 866.4 966.8 866.6 964.5 866.9 963.8 867.1 967.4 867.3 972.2 867.6 982.0 867.8 993.8 868.1 1018.4 868.3 1058.0 868.5 1049.4 868.8 1019.1 869.0 1004.3 869.2 995.8 869.5 993.5 869.7 994.6 869.9 1003.1 870.2 1016.1 870.4 1030.6 870.7 1025.5 870.9 1005.5 871.1 989.6 871.4 977.3 871.6 971.4 871.8 965.9 872.1 965.2 872.3 966.8 872.5 972.8 872.8 980.0 873.0 990.8 873.3 1010.1 873.5 1044.6 873.7 1058.0 874.0 1024.3 874.2 1005.0 874.4 995.0 874.7 989.3 874.9 989.9 875.1 995.1 875.4 1004.7 875.6 1018.7 875.9 1030.0 876.1 1019.1 876.3 998.5 876.6 985.6 876.8 976.3 877.0 969.2 877.3 966.8 877.5 967.8 877.7 970.3 878.0 977.8 878.2 988.0 878.4 1006.0 878.7 1031.3 878.9 1066.8 879.2 1031.4 879.4 1008.6 879.6 995.8 879.9 988.5 880.1 986.2 880.3 988.2 880.6 993.8 880.8 1006.6 881.0 1022.1 881.3 1029.2 881.5 1012.3 881.8 995.6 882.0 983.7 882.2 975.4 882.5 970.9 882.7 969.2 882.9 970.5 883.2 976.0 883.4 984.7 883.6 997.4 883.9 1022.5 884.1 1059.6 884.4 1041.7 884.6 1015.4 884.8 997.5 885.1 987.4 885.3 985.2 885.5 981.8 885.8 990.0 886.0 995.1 886.2 1008.5 886.5 1025.0 886.7 1025.9 887.0 1007.9 887.2 993.3 887.4 981.1 887.7 976.1 887.9 972.1 888.1 971.0 888.4 975.8 888.6 981.8 888.8 992.8 889.1 1012.8 889.3 1043.6 889.6 1056.7 889.8 1022.3 890.0 1000.5 890.3 989.4 890.5 983.1 890.7 980.5 891.0 982.8 891.2 987.0 891.4 998.3 891.7 1012.0 891.9 1027.9 892.1 1021.5 892.4 1004.9 892.6 990.8 892.9 982.0 893.1 975.3 893.3 973.0 893.6 973.3 893.8 978.7 894.0 988.5 894.3 1004.0 894.5 1029.6 894.7 1064.8 895.0 1031.2 895.2 1005.3 895.5 991.8 895.7 983.2 895.9 977.4 896.2 977.8 896.4 981.3 896.6 987.1 896.9 999.8 897.1 1016.0 897.3 1029.2 897.6 1020.6 897.8 1001.1 898.1 990.1 898.3 981.6 898.5 977.6 898.8 975.7 899.0 979.1 899.2 985.7 899.5 998.9 899.7 1018.0 899.9 1054.7 900.2 1047.9 900.4 1014.1 900.7 995.4 900.9 982.5 901.1 977.5 901.4 974.9 901.6 976.2 901.8 980.7 902.1 987.9 902.3 1000.6 902.5 1019.8 902.8 1028.1 903.0 1015.7 903.3 999.1 903.5 988.1 903.7 982.7 904.0 979.7 904.2 977.9 904.4 983.5 904.7 993.8 904.9 1008.0 905.1 1036.3 905.4 1065.4 905.6 1028.7 905.8 1003.3 906.1 987.2 906.3 978.8 906.6 974.4 906.8 972.8 907.0 974.5 907.3 982.0 907.5 989.8 907.7 1004.2 908.0 1022.5 908.2 1028.9 908.4 1014.1 908.7 998.9 908.9 989.7 909.2 983.3 909.4 979.5 909.6 984.0 909.9 990.6 910.1 1000.7 910.3 1021.1 910.6 1057.5 910.8 1045.3 911.0 1010.7 911.3 993.3 911.5 982.1 911.8 974.9 912.0 971.3 912.2 970.6 912.5 973.6 912.7 980.4 912.9 989.8 913.2 1005.5 913.4 1023.1 913.6 1029.0 913.9 1013.8 914.1 997.7 914.4 990.4 914.6 984.9 914.8 984.2 915.1 987.9 915.3 996.1 915.5 1009.8 915.8 1040.7 916.0 1063.2 916.2 1023.6 916.5 1000.4 916.7 985.5 916.9 975.6 917.2 969.4 917.4 969.7 917.7 969.5 917.9 973.5 918.1 980.0 918.4 991.4 918.6 1006.9 918.8 1026.1 919.1 1027.3 919.3 1012.3 919.5 999.1 919.8 990.6 920.0 987.1 920.3 988.5 920.5 991.4 920.7 1003.4 921.0 1024.2 921.2 1057.5 921.4 1046.2 921.7 1011.3 921.9 992.0 922.1 979.5 922.4 971.9 922.6 968.4 922.9 966.7 923.1 966.7 923.3 974.6 923.6 980.5 923.8 992.0 924.0 1009.9 924.3 1028.4 924.5 1025.5 924.7 1012.1 925.0 997.7 925.2 991.8 925.5 989.7 925.7 991.2 925.9 998.0 926.2 1011.2 926.4 1037.8 926.6 1066.4 926.9 1027.9 927.1 1000.3 927.3 984.6 927.6 975.8 927.8 969.2 928.1 965.2 928.3 965.5 928.5 967.5 928.8 973.0 929.0 980.8 929.2 992.6 929.5 1009.5 929.7 1028.7 929.9 1025.9 930.2 1012.5 930.4 998.2 930.6 993.7 930.9 992.6 931.1 996.6 931.4 1007.4 931.6 1022.8 931.8 1055.6 932.1 1050.2 932.3 1016.2 932.5 992.0 932.8 980.1 933.0 970.5 933.2 967.8 933.5 963.2 933.7 963.7 934.0 965.6 934.2 971.6 934.4 981.4 934.7 992.6 934.9 1010.7 935.1 1029.3 935.4 1027.6 935.6 1012.7 935.8 1002.7 936.1 998.2 936.3 997.8 936.6 1000.2 936.8 1012.0 937.0 1035.0 937.3 1069.4 937.5 1035.2 937.7 1005.3 938.0 987.5 938.2 976.0 938.4 966.0 938.7 963.1 938.9 961.9 939.2 963.1 939.4 965.8 939.6 970.6 939.9 979.7 940.1 993.7 940.3 1011.7 940.6 1031.0 940.8 1030.7 941.0 1014.4 941.3 1004.7 941.5 998.2 941.8 1001.3 942.0 1007.1 942.2 1020.5 942.5 1049.8 942.7 1064.2 942.9 1023.3 943.2 997.7 943.4 981.8 943.6 971.8 943.9 964.1 944.1 960.3 944.3 959.5 944.6 960.8 944.8 964.5 945.1 970.1 945.3 979.2 945.5 993.4 945.8 1011.5 946.0 1031.7 946.2 1032.8 946.5 1018.6 946.7 1007.2 946.9 1003.3 947.2 1003.9 947.4 1013.2 947.7 1030.1 947.9 1063.7 948.1 1047.6 948.4 1013.5 948.6 991.9 948.8 977.8 949.1 969.3 949.3 962.1 949.5 958.3 949.8 958.6 950.0 958.0 950.3 963.6 950.5 970.0 950.7 979.6 951.0 993.6 951.2 1011.2 951.4 1031.8 951.7 1032.6 951.9 1020.3 952.1 1010.6 952.4 1007.7 952.6 1011.2 952.9 1020.1 953.1 1042.5 953.3 1072.5 953.6 1035.7 953.8 1004.2 954.0 986.3 954.3 973.7 954.5 965.7 954.7 960.2 955.0 956.9 955.2 956.1 955.5 959.1 955.7 962.1 955.9 966.9 956.2 978.7 956.4 992.4 956.6 1011.3 956.9 1033.0 957.1 1035.6 957.3 1024.2 957.6 1014.5 957.8 1010.2 958.0 1013.3 958.3 1028.2 958.5 1053.1 958.8 1067.4 959.0 1025.6 959.2 999.4 959.5 982.9 959.7 970.1 959.9 963.0 960.2 958.2 960.4 954.9 960.6 954.8 960.9 957.0 961.1 961.2 961.4 966.7 961.6 977.3 961.8 991.2 962.1 1010.2 962.3 1031.5 962.5 1040.2 962.8 1028.1 963.0 1018.6 963.2 1017.9 963.5 1020.9 963.7 1034.9 964.0 1066.3 964.2 1057.7 964.4 1017.5 964.7 995.7 964.9 980.7 965.1 969.8 965.4 961.6 965.6 956.1 965.8 953.6 966.1 954.2 966.3 957.2 966.6 960.9 966.8 967.7 967.0 976.7 967.3 991.2 967.5 1007.7 967.7 1029.6 968.0 1042.2 968.2 1032.3 968.4 1024.1 968.7 1022.3 968.9 1027.3 969.1 1043.0 969.4 1075.9 969.6 1047.6 969.9 1011.8 970.1 991.8 970.3 975.8 970.6 966.5 970.8 960.3 971.0 954.8 971.3 953.9 971.5 953.9 971.7 956.3 972.0 959.1 972.2 965.9 972.5 975.3 972.7 988.5 972.9 1004.5 973.2 1028.4 973.4 1044.9 973.6 1036.5 973.9 1027.1 974.1 1025.9 974.3 1034.3 974.6 1053.3 974.8 1080.2 975.1 1039.5 975.3 1007.2 975.5 989.8 975.8 974.4 976.0 965.7 976.2 957.5 976.5 954.3 976.7 951.3 976.9 952.6 977.2 955.2 977.4 959.0 977.7 965.0 977.9 974.5 978.1 985.3 978.4 1002.2 978.6 1025.2 978.8 1046.2 979.1 1042.9 979.3 1034.3 979.5 1030.5 979.8 1039.0 980.0 1061.5 980.3 1078.6 980.5 1035.5 980.7 1005.9 981.0 987.4 981.2 973.0 981.4 963.8 981.7 958.0 981.9 953.5 982.1 949.9 982.4 951.8 982.6 953.7 982.8 957.1 983.1 963.7 983.3 972.4 983.6 983.7 983.8 999.1 984.0 1023.5 984.3 1045.0 984.5 1048.3 984.7 1039.7 985.0 1037.5 985.2 1046.1 985.4 1070.2 985.7 1073.3 985.9 1029.9 986.2 1002.9 986.4 984.8 986.6 972.2 986.9 962.1 987.1 956.4 987.3 952.1 987.6 950.2 987.8 950.9 988.0 952.5 988.3 956.5 988.5 961.5 988.8 970.8 989.0 982.7 989.2 997.3 989.5 1017.9 989.7 1044.2 989.9 1051.8 990.2 1045.9 990.4 1043.6 990.6 1051.6 990.9 1079.6 991.1 1069.0 991.4 1025.3 991.6 1002.3 991.8 984.0 992.1 970.6 992.3 963.0 992.5 955.8 992.8 951.2 993.0 947.4 993.2 949.9 993.5 950.8 993.7 953.9 994.0 960.1 994.2 969.3 994.4 979.1 994.7 994.2 994.9 1013.7 995.1 1038.0 995.4 1055.8 995.6 1052.6 995.8 1049.6 996.1 1060.0 996.3 1087.4 996.5 1065.4 996.8 1025.9 997.0 1000.6 997.3 984.1 997.5 969.6 997.7 960.0 998.0 955.5 998.2 950.6 998.4 948.9 998.7 947.3 998.9 949.4 999.1 953.0 999.4 958.7 999.6 966.2 999.9 977.7 1000.1 990.4 1000.3 1010.2 1000.6 1033.5 1000.8 1057.4 1001.0 1058.8 1001.3 1056.7 1001.5 1065.0 1001.7 1094.5 1002.0 1063.4 1002.2 1025.4 1002.5 1000.4 1002.7 983.4 1002.9 970.1 1003.2 963.2 1003.4 954.7 1003.6 951.7 1003.9 947.1 1004.1 949.1 1004.3 949.5 1004.6 953.2 1004.8 955.6 1005.1 965.3 1005.3 974.1 1005.5 987.9 1005.8 1006.5 1006.0 1028.4 1006.2 1054.4 1006.5 1066.3 1006.7 1063.2 1006.9 1072.8 1007.2 1099.3 1007.4 1064.3 1007.7 1025.5 1007.9 999.7 1008.1 983.7 1008.4 971.1 1008.6 962.3 1008.8 955.6 1009.1 949.1 1009.3 948.5 1009.5 947.5 1009.8 947.8 1010.0 950.9 1010.2 953.7 1010.5 964.0 1010.7 971.2 1011.0 983.4 1011.2 1001.3 1011.4 1022.6 1011.7 1049.0 1011.9 1068.9 1012.1 1072.6 1012.4 1080.7 1012.6 1103.0 1012.8 1064.5 1013.1 1027.7 1013.3 1004.4 1013.6 983.9 1013.8 972.2 1014.0 961.4 1014.3 955.2 1014.5 950.6 1014.7 947.7 1015.0 945.0 1015.2 945.7 1015.4 951.0 1015.7 954.4 1015.9 958.6 1016.2 969.1 1016.4 981.5 1016.6 995.7 1016.9 1016.0 1017.1 1042.3 1017.3 1070.2 1017.6 1079.8 1017.8 1086.7 1018.0 1109.2 1018.3 1069.7 1018.5 1030.3 1018.8 1004.9 1019.0 985.6 1019.2 973.0 1019.5 963.3 1019.7 955.3 1019.9 950.2 1020.2 946.4 1020.4 945.4 1020.6 944.6 1020.9 947.0 1021.1 952.0 1021.4 958.2 1021.6 965.3 1021.8 976.5 1022.1 991.2 1022.3 1010.9 1022.5 1035.9 1022.8 1064.4 1023.0 1084.9 1023.2 1093.0 1023.5 1116.9 1023.7 1073.5 1023.9 1034.4 1024.2 1007.4 1024.4 988.6 1024.7 975.6 1024.9 964.9 1025.1 958.3 1025.4 951.7 1025.6 948.8 1025.8 945.1 1026.1 945.4 1026.3 946.3 1026.5 950.2 1026.8 956.3 1027.0 963.1 1027.3 973.7 1027.5 986.1 1027.7 1003.5 1028.0 1027.3 1028.2 1056.1 1028.4 1086.3 1028.7 1100.9 1028.9 1118.7 1029.1 1080.0 1029.4 1039.3 1029.6 1011.8 1029.9 993.7 1030.1 977.4 1030.3 966.5 1030.6 959.5 1030.8 951.5 1031.0 947.2 1031.3 946.0 1031.5 945.2 1031.7 946.9 1032.0 948.4 1032.2 955.1 1032.5 961.0 1032.7 968.4 1032.9 982.1 1033.2 997.5 1033.4 1018.8 1033.6 1047.3 1033.9 1080.7 1034.1 1105.3 1034.3 1126.7 1034.6 1090.4 1034.8 1044.7 1035.0 1015.6 1035.3 996.9 1035.5 980.9 1035.8 969.6 1036.0 958.5 1036.2 952.3 1036.5 947.7 1036.7 946.2 1036.9 945.5 1037.2 945.2 1037.4 947.6 1037.6 952.6 1037.9 958.0 1038.1 966.1 1038.4 977.6 1038.6 993.1 1038.8 1013.0 1039.1 1036.7 1039.3 1070.0 1039.5 1106.6 1039.8 1135.2 1040.0 1102.8 1040.2 1053.4 1040.5 1022.6 1040.7 1000.2 1041.0 984.5 1041.2 971.6 1041.4 961.3 1041.7 955.1 1041.9 950.2 1042.1 946.2 1042.4 943.4 1042.6 944.5 1042.8 945.3 1043.1 950.3 1043.3 956.0 1043.6 964.5 1043.8 974.1 1044.0 985.7 1044.3 1003.9 1044.5 1026.4 1044.7 1057.4 1045.0 1098.4 1045.2 1136.2 1045.4 1117.8 1045.7 1063.7 1045.9 1029.8 1046.2 1005.7 1046.4 988.0 1046.6 975.1 1046.9 964.2 1047.1 956.9 1047.3 949.6 1047.6 948.3 1047.8 944.7 1048.0 942.3 1048.3 945.8 1048.5 949.5 1048.7 953.4 1049.0 959.3 1049.2 969.7 1049.5 981.2 1049.7 997.4 1049.9 1018.4 1050.2 1043.4 1050.4 1084.6 1050.6 1131.9 1050.9 1134.5 1051.1 1077.2 1051.3 1039.2 1051.6 1012.4 1051.8 993.4 1052.1 979.8 1052.3 966.8 1052.5 958.8 1052.8 952.3 1053.0 948.8 1053.2 945.4 1053.5 944.6 1053.7 944.8 1053.9 948.3 1054.2 951.3 1054.4 957.4 1054.7 966.7 1054.9 977.3 1055.1 991.7 1055.4 1009.0 1055.6 1036.7 1055.8 1069.6 1056.1 1121.1 1056.3 1150.8 1056.5 1093.3 1056.8 1051.7 1057.0 1021.6 1057.3 1000.7 1057.5 982.1 1057.7 970.4 1058.0 960.6 1058.2 955.3 1058.4 950.0 1058.7 944.9 1058.9 944.3 1059.1 944.4 1059.4 945.7 1059.6 950.5 1059.9 954.2 1060.1 962.2 1060.3 971.7 1060.6 985.6 1060.8 1001.4 1061.0 1024.7 1061.3 1054.2 1061.5 1099.8 1061.7 1147.9 1062.0 1111.8 1062.2 1065.0 1062.4 1034.4 1062.7 1007.4 1062.9 990.1 1063.2 975.8 1063.4 965.4 1063.6 958.1 1063.9 951.4 1064.1 946.4 1064.3 943.5 1064.6 944.5 1064.8 945.8 1065.0 946.7 1065.3 953.1 1065.5 957.3 1065.8 967.7 1066.0 980.1 1066.2 993.7 1066.5 1013.0 1066.7 1042.7 1066.9 1080.1 1067.2 1138.5 1067.4 1124.0 1067.6 1083.1 1067.9 1046.8 1068.1 1017.6 1068.4 996.7 1068.6 980.1 1068.8 968.3 1069.1 959.9 1069.3 953.7 1069.5 949.1 1069.8 945.8 1070.0 944.9 1070.2 944.8 1070.5 948.6 1070.7 950.2 1071.0 956.0 1071.2 961.7 1071.4 973.5 1071.7 988.0 1071.9 1004.9 1072.1 1030.3 1072.4 1064.3 1072.6 1118.8 1072.8 1128.2 1073.1 1098.3 1073.3 1062.5 1073.6 1030.3 1073.8 1006.0 1074.0 988.5 1074.3 974.9 1074.5 965.4 1074.7 957.3 1075.0 950.9 1075.2 946.3 1075.4 945.6 1075.7 945.3 1075.9 944.7 1076.1 949.3 1076.4 952.5 1076.6 959.9 1076.9 968.6 1077.1 979.9 1077.3 996.5 1077.6 1017.6 1077.8 1048.7 1078.0 1094.8 1078.3 1125.5 1078.5 1104.8 1078.7 1078.3 1079.0 1043.7 1079.2 1018.1 1079.5 997.6 1079.7 981.3 1079.9 970.0 1080.2 960.8 1080.4 954.8 1080.6 948.3 1080.9 946.9 1081.1 944.3 1081.3 946.3 1081.6 946.3 1081.8 951.9 1082.1 956.2 1082.3 966.1 1082.5 975.8 1082.8 988.5 1083.0 1008.7 1083.2 1033.7 1083.5 1072.6 1083.7 1123.7 1083.9 1102.4 1084.2 1089.7 1084.4 1064.3 1084.7 1032.4 1084.9 1009.4 1085.1 991.3 1085.4 976.5 1085.6 966.4 1085.8 955.8 1086.1 953.0 1086.3 947.2 1086.5 944.8 1086.8 946.7 1087.0 947.7 1087.2 948.8 1087.5 954.4 1087.7 960.6 1088.0 969.2 1088.2 982.7 1088.4 999.6 1088.7 1023.2 1088.9 1053.3 1089.1 1104.9 1089.4 1101.0 1089.6 1087.1 1089.8 1078.7 1090.1 1049.1 1090.3 1021.8 1090.6 1000.4 1090.8 985.6 1091.0 972.4 1091.3 962.9 1091.5 955.7 1091.7 951.2 1092.0 946.7 1092.2 945.5 1092.4 945.6 1092.7 948.3 1092.9 950.6 1093.2 957.3 1093.4 967.6 1093.6 976.6 1093.9 990.4 1094.1 1008.8 1094.3 1037.1 1094.6 1079.8 1094.8 1104.5 1095.0 1080.8 1095.3 1077.4 1095.5 1067.8 1095.8 1040.6 1096.0 1014.0 1096.2 995.3 1096.5 981.3 1096.7 968.0 1096.9 960.5 1097.2 953.3 1097.4 949.0 1097.6 945.9 1097.9 945.3 1098.1 947.6 1098.4 950.0 1098.6 955.5 1098.8 959.9 1099.1 970.1 1099.3 981.6 1099.5 999.5 1099.8 1024.0 1100.0 1056.2 1100.2 1102.1 1100.5 1080.4 1100.7 1069.0 1100.9 1069.1 1101.2 1057.8 1101.4 1032.7 1101.7 1006.9 1101.9 990.2 1102.1 976.5 1102.4 964.3 1102.6 957.2 1102.8 952.6 1103.1 950.3 1103.3 946.9 1103.5 946.5 1103.8 948.7 1104.0 953.2 1104.3 958.3 1104.5 966.5 1104.7 975.8 1105.0 989.5 1105.2 1008.8 1105.4 1038.8 1105.7 1083.4 1105.9 1085.5 1106.1 1064.5 1106.4 1060.5 1106.6 1061.9 1106.9 1050.1 1107.1 1023.7 1107.3 1002.8 1107.6 985.7 1107.8 974.5 1108.0 963.6 1108.3 955.5 1108.5 949.9 1108.7 947.7 1109.0 946.9 1109.2 948.1 1109.5 951.0 1109.7 954.9 1109.9 960.7 1110.2 970.7 1110.4 981.4 1110.6 999.4 1110.9 1023.4 1111.1 1059.3 1111.3 1095.1 1111.6 1066.0 1111.8 1052.0 1112.1 1054.3 1112.3 1058.3 1112.5 1042.8 1112.8 1017.7 1113.0 998.6 1113.2 981.5 1113.5 970.5 1113.7 961.9 1113.9 955.2 1114.2 952.4 1114.4 949.5 1114.6 948.4 1114.9 949.0 1115.1 952.9 1115.4 957.8 1115.6 964.2 1115.8 974.0 1116.1 988.4 1116.3 1007.2 1116.5 1037.3 1116.8 1082.4 1117.0 1072.4 1117.2 1050.8 1117.5 1045.1 1117.7 1047.7 1118.0 1054.2 1118.2 1039.2 1118.4 1014.0 1118.7 993.4 1118.9 980.0 1119.1 968.0 1119.4 961.2 1119.6 955.4 1119.8 951.9 1120.1 949.6 1120.3 947.9 1120.6 952.2 1120.8 953.6 1121.0 961.6 1121.3 969.4 1121.5 980.0 1121.7 996.1 1122.0 1019.3 1122.2 1057.3 1122.4 1084.7 1122.7 1054.9 1122.9 1038.0 1123.2 1038.4 1123.4 1044.6 1123.6 1051.1 1123.9 1034.6 1124.1 1012.0 1124.3 991.5 1124.6 978.5 1124.8 967.4 1125.0 960.7 1125.3 955.3 1125.5 950.6 1125.8 951.1 1126.0 952.2 1126.2 952.8 1126.5 958.5 1126.7 964.6 1126.9 972.9 1127.2 987.4 1127.4 1004.4 1127.6 1033.5 1127.9 1075.6 1128.1 1063.7 1128.3 1041.1 1128.6 1032.1 1128.8 1033.4 1129.1 1040.7 1129.3 1046.0 1129.5 1032.2 1129.8 1007.8 1130.0 991.6 1130.2 977.8 1130.5 968.6 1130.7 958.2 1130.9 955.0 1131.2 952.0 1131.4 951.9 1131.7 951.5 1131.9 957.0 1132.1 960.3 1132.4 966.1 1132.6 978.8 1132.8 993.3 1133.1 1014.4 1133.3 1050.1 1133.5 1079.9 1133.8 1046.8 1134.0 1030.5 1134.3 1025.0 1134.5 1028.2 1134.7 1037.0 1135.0 1044.0 1135.2 1027.7 1135.4 1006.3 1135.7 989.6 1135.9 978.4 1136.1 966.2 1136.4 959.4 1136.6 956.2 1136.9 954.7 1137.1 953.5 1137.3 953.3 1137.6 958.4 1137.8 963.7 1138.0 971.5 1138.3 982.6 1138.5 1000.6 1138.7 1026.3 1139.0 1068.4 1139.2 1061.0 1139.5 1034.0 1139.7 1022.8 1139.9 1020.7 1140.2 1024.2 1140.4 1033.2 1140.6 1042.1 1140.9 1026.8 1141.1 1005.8 1141.3 988.7 1141.6 975.7 1141.8 966.5 1142.0 961.1 1142.3 956.5 1142.5 952.2 1142.8 955.0 1143.0 956.3 1143.2 959.1 1143.5 966.5 1143.7 976.4 1143.9 990.2 1144.2 1008.2 1144.4 1038.8 1144.6 1075.9 1144.9 1045.9 1145.1 1024.2 1145.4 1016.8 1145.6 1014.4 1145.8 1019.9 1146.1 1029.9 1146.3 1038.6 1146.5 1026.2 1146.8 1006.8 1147.0 988.0 1147.2 976.8 1147.5 968.2 1147.7 961.3 1148.0 958.4 1148.2 955.4 1148.4 955.4 1148.7 958.1 1148.9 962.1 1149.1 969.9 1149.4 980.0 1149.6 996.1 1149.8 1017.5 1150.1 1055.4 1150.3 1066.0 1150.6 1033.4 1150.8 1017.0 1151.0 1011.6 1151.3 1011.1 1151.5 1015.5 1151.7 1025.9 1152.0 1036.7 1152.2 1026.5 1152.4 1005.6 1152.7 989.3 1152.9 977.2 1153.1 969.1 1153.4 962.9 1153.6 958.8 1153.9 956.6 1154.1 957.2 1154.3 960.1 1154.6 965.2 1154.8 972.4 1155.0 984.2 1155.3 1001.0 1155.5 1027.3 1155.7 1069.1 1156.0 1051.0 1156.2 1023.2 1156.5 1010.2 1156.7 1005.3 1156.9 1005.8 1157.2 1009.4 1157.4 1023.0 1157.6 1034.7 1157.9 1027.8 1158.1 1009.0 1158.3 990.8 1158.6 976.9 1158.8 968.6 1159.1 962.8 1159.3 959.3 1159.5 958.3 1159.8 958.5 1160.0 962.4 1160.2 968.1 1160.5 976.3 1160.7 988.2 1160.9 1007.6 1161.2 1038.0 1161.4 1072.9 1161.7 1036.4 1161.9 1013.8 1162.1 1003.8 1162.4 1000.8 1162.6 1002.0 1162.8 1006.9 1163.1 1019.1 1163.3 1031.1 1163.5 1029.6 1163.8 1009.3 1164.0 991.6 1164.3 981.6 1164.5 970.7 1164.7 965.4 1165.0 962.5 1165.2 960.6 1165.4 961.4 1165.7 963.7 1165.9 971.8 1166.1 979.0 1166.4 992.0 1166.6 1014.4 1166.8 1050.1 1167.1 1061.4 1167.3 1028.4 1167.6 1008.7 1167.8 999.6 1168.0 995.7 1168.3 995.3 1168.5 1002.5 1168.7 1013.6 1169.0 1026.9 1169.2 1031.4 1169.4 1013.8 1169.7 995.4 1169.9 982.5 1170.2 972.2 1170.4 966.9 1170.6 961.7 1170.9 960.8 1171.1 962.6 1171.3 967.2 1171.6 972.8 1171.8 982.6 1172.0 999.2 1172.3 1022.0 1172.5 1060.9 1172.8 1049.0 1173.0 1018.2 1173.2 1002.7 1173.5 996.1 1173.7 992.2 1173.9 994.2 1174.2 998.6 1174.4 1010.1 1174.6 1023.3 1174.9 1030.6 1175.1 1015.4 1175.4 998.3 1175.6 985.7 1175.8 973.5 1176.1 968.8 1176.3 964.0 1176.5 963.7 1176.8 964.8 1177.0 967.7 1177.2 975.8 1177.5 985.6 1177.7 1004.3 1178.0 1029.2 1178.2 1067.9 1178.4 1039.0 1178.7 1013.0 1178.9 998.6 1179.1 990.1 1179.4 990.2 1179.6 989.8 1179.8 995.6 1180.1 1003.9 1180.3 1019.5 1180.5 1030.0 1180.8 1020.4 1181.0 1001.4 1181.3 986.8 1181.5 977.9 1181.7 970.9 1182.0 968.4 1182.2 965.9 1182.4 966.8 1182.7 972.0 1182.9 977.8 1183.1 991.8 1183.4 1009.3 1183.6 1038.8 1183.9 1066.8 1184.1 1030.7 1184.3 1007.7 1184.6 994.9 1184.8 987.3 1185.0 985.6 1185.3 987.3 1185.5 992.1 1185.7 998.4 1186.0 1015.8 1186.2 1028.3 1186.5 1022.9 1186.7 1006.0 1186.9 992.0 1187.2 980.6 1187.4 972.9 1187.6 968.7 1187.9 969.1 1188.1 969.1 1188.3 973.7 1188.6 980.5 1188.8 992.2 1189.1 1012.7 1189.3 1046.3 1189.5 1060.0 1189.8 1022.8 1190.0 1002.7 1190.2 991.0 1190.5 982.7 1190.7 982.8 1190.9 982.1 1191.2 987.6 1191.4 995.4 1191.7 1008.2 1191.9 1022.9 1192.1 1028.2 1192.4 1012.1 1192.6 996.9 1192.8 983.8 1193.1 977.0 1193.3 971.9 1193.5 971.7 1193.8 972.4 1194.0 975.4 1194.2 984.1 1194.5 996.0 1194.7 1016.4 1195.0 1052.1 1195.2 1054.7 1195.4 1018.3 1195.7 999.4 1195.9 987.3 1196.1 983.3 1196.4 980.3 1196.6 981.3 1196.8 984.1 1197.1 990.0 1197.3 1002.2 1197.6 1018.6 1197.8 1028.7 1198.0 1016.8 1198.3 1001.0 1198.5 988.0 1198.7 979.9 1199.0 976.9 1199.2 973.7 1199.4 973.4 1199.7 978.9 1199.9 986.6 1200.2 999.8 1200.4 1021.2 1200.6 1056.4 1200.9 1047.7 1201.1 1015.9 1201.3 999.0 1201.6 985.9 1201.8 980.6 1202.0 977.6 1202.3 975.8 1202.5 979.1 1202.8 987.9 1203.0 996.3 1203.2 1011.7 1203.5 1027.7 1203.7 1022.7 1203.9 1008.1 1204.2 994.0 1204.4 985.0 1204.6 979.3 1204.9 975.4 1205.1 978.0 1205.3 981.8 1205.6 989.4 1205.8 1001.7 1206.1 1024.4 1206.3 1060.7 1206.5 1044.3 1206.8 1013.4 1207.0 994.8 1207.2 983.4 1207.5 977.7 1207.7 973.6 1207.9 972.2 1208.2 976.9 1208.4 982.3 1208.7 990.8 1208.9 1006.5 1209.1 1023.8 1209.4 1029.1 1209.6 1013.2 1209.8 998.1 1210.1 988.2 1210.3 981.7 1210.5 977.9 1210.8 978.6 1211.0 984.1 1211.3 990.6 1211.5 1003.7 1211.7 1026.0 1212.0 1064.6 1212.2 1042.3 1212.4 1011.2 1212.7 994.4 1212.9 981.9 1213.1 975.6 1213.4 971.4 1213.6 972.0 1213.9 973.7 1214.1 979.3 1214.3 987.8 1214.6 999.1 1214.8 1017.2 1215.0 1029.7 1215.3 1021.9 1215.5 1004.8 1215.7 994.4 1216.0 986.0 1216.2 982.4 1216.5 981.3 1216.7 984.9 1216.9 992.6 1217.2 1004.8 1217.4 1028.2 1217.6 1066.2 1217.9 1040.4 1218.1 1010.1 1218.3 992.2 1218.6 980.4 1218.8 974.0 1219.0 969.6 1219.3 968.0 1219.5 969.8 1219.8 975.1 1220.0 983.3 1220.2 993.5 1220.5 1009.5 1220.7 1026.4 1220.9 1028.5 1221.2 1012.6 1221.4 998.2 1221.6 990.5 1221.9 985.6 1222.1 983.1 1222.4 986.0 1222.6 993.6 1222.8 1006.5 1223.1 1030.2 1223.3 1067.7 1223.5 1041.5 1223.8 1009.8 1224.0 992.0 1224.2 979.9 1224.5 972.7 1224.7 968.0 1225.0 965.6 1225.2 967.5 1225.4 972.6 1225.7 978.5 1225.9 988.9 1226.1 1002.4 1226.4 1020.0 1226.6 1032.0 1226.8 1021.6 1227.1 1005.6 1227.3 995.9 1227.6 990.6 1227.8 988.7 1228.0 990.2 1228.3 994.6 1228.5 1008.9 1228.7 1028.8 1229.0 1067.8 1229.2 1043.6 1229.4 1010.8 1229.7 992.2 1229.9 979.6 1230.2 971.1 1230.4 967.0 1230.6 964.1 1230.9 964.3 1231.1 967.8 1231.3 973.2 1231.6 982.1 1231.8 994.2 1232.0 1012.6 1232.3 1030.0 1232.5 1029.7 1232.7 1014.8 1233.0 999.8 1233.2 994.8 1233.5 991.7 1233.7 991.8 1233.9 999.0 1234.2 1009.2 1234.4 1030.7 1234.6 1069.3 1234.9 1046.9 1235.1 1012.1 1235.3 991.6 1235.6 979.0 1235.8 970.3 1236.1 965.5 1236.3 963.7 1236.5 962.1 1236.8 965.5 1237.0 970.0 1237.2 975.6 1237.5 986.9 1237.7 1002.5 1237.9 1021.9 1238.2 1034.4 1238.4 1024.9 1238.7 1009.2 1238.9 1000.5 1239.1 994.9 1239.4 995.4 1239.6 998.1 1239.8 1008.9 1240.1 1029.4 1240.3 1066.8 1240.5 1052.8 1240.8 1015.0 1241.0 993.4 1241.3 980.1 1241.5 972.7 1241.7 965.6 1242.0 961.6 1242.2 960.8 1242.4 961.4 1242.7 967.0 1242.9 971.6 1243.1 981.7 1243.4 994.1 1243.6 1011.9 1243.9 1031.8 1244.1 1034.1 1244.3 1018.2 1244.6 1007.3 1244.8 1001.0 1245.0 997.7 1245.3 1001.3 1245.5 1011.3 1245.7 1028.3 1246.0 1063.3 1246.2 1057.6 1246.4 1018.0 1246.7 995.4 1246.9 982.9 1247.2 971.6 1247.4 964.6 1247.6 960.8 1247.9 959.1 1248.1 960.2 1248.3 961.3 1248.6 966.5 1248.8 975.5 1249.0 987.3 1249.3 1000.4 1249.5 1023.0 1249.8 1037.5 1250.0 1027.7 1250.2 1015.5 1250.5 1005.5 1250.7 1002.4 1250.9 1003.2 1251.2 1010.6 1251.4 1024.8 1251.6 1058.2 1251.9 1068.1 1252.1 1023.0 1252.4 999.3 1252.6 983.6 1252.8 970.7 1253.1 965.8 1253.3 960.9 1253.5 958.2 1253.8 958.8 1254.0 961.5 1254.2 962.9 1254.5 970.9 1254.7 980.0 1255.0 993.0 1255.2 1011.6 1255.4 1033.5 1255.7 1039.2 1255.9 1023.2 1256.1 1012.6 1256.4 1006.6 1256.6 1007.9 1256.8 1012.1 1257.1 1026.2 1257.3 1052.8 1257.6 1078.9 1257.8 1030.7 1258.0 1003.2 1258.3 986.3 1258.5 975.2 1258.7 965.4 1259.0 961.5 1259.2 958.3 1259.4 956.5 1259.7 957.9 1259.9 960.1 1260.1 964.8 1260.4 973.2 1260.6 984.3 1260.9 999.7 1261.1 1019.6 1261.3 1042.2 1261.6 1036.8 1261.8 1023.4 1262.0 1014.6 1262.3 1010.7 1262.5 1014.2 1262.7 1024.0 1263.0 1047.3 1263.2 1088.6 1263.5 1039.8 1263.7 1006.9 1263.9 988.5 1264.2 975.0 1264.4 966.9 1264.6 961.9 1264.9 957.8 1265.1 954.5 1265.3 954.4 1265.6 957.9 1265.8 961.7 1266.1 967.7 1266.3 978.5 1266.5 990.2 1266.8 1006.0 1267.0 1028.3 1267.2 1045.4 1267.5 1033.1 1267.7 1022.5 1267.9 1016.7 1268.2 1018.4 1268.4 1023.7 1268.7 1043.9 1268.9 1083.3 1269.1 1051.5 1269.4 1015.1 1269.6 995.1 1269.8 977.9 1270.1 969.2 1270.3 961.8 1270.5 958.7 1270.8 953.5 1271.0 952.8 1271.2 955.2 1271.5 957.8 1271.7 962.8 1272.0 969.9 1272.2 981.2 1272.4 994.4 1272.7 1015.7 1272.9 1039.9 1273.1 1047.0 1273.4 1035.2 1273.6 1024.0 1273.8 1019.8 1274.1 1025.1 1274.3 1040.8 1274.6 1075.3 1274.8 1069.3 1275.0 1024.2 1275.3 998.9 1275.5 982.4 1275.7 972.1 1276.0 962.5 1276.2 956.0 1276.4 954.4 1276.7 951.9 1276.9 954.0 1277.2 956.4 1277.4 958.4 1277.6 965.1 1277.9 973.7 1278.1 986.3 1278.3 1002.4 1278.6 1023.4 1278.8 1046.0 1279.0 1046.7 1279.3 1034.7 1279.5 1025.6 1279.8 1027.2 1280.0 1037.5 1280.2 1065.1 1280.5 1085.8 1280.7 1035.4 1280.9 1006.1 1281.2 989.4 1281.4 975.3 1281.6 966.0 1281.9 958.8 1282.1 954.0 1282.4 952.5 1282.6 949.8 1282.8 953.2 1283.1 955.7 1283.3 960.1 1283.5 968.4 1283.8 976.9 1284.0 990.2 1284.2 1009.0 1284.5 1031.2 1284.7 1053.4 1284.9 1046.3 1285.2 1036.1 1285.4 1033.3 1285.7 1038.3 1285.9 1057.6 1286.1 1100.1 1286.4 1050.0 1286.6 1017.6 1286.8 995.1 1287.1 980.8 1287.3 967.4 1287.5 961.2 1287.8 955.7 1288.0 952.7 1288.3 949.5 1288.5 950.8 1288.7 952.2 1289.0 957.8 1289.2 960.9 1289.4 969.7 1289.7 980.5 1289.9 994.7 1290.1 1015.8 1290.4 1041.5 1290.6 1057.1 1290.9 1047.4 1291.1 1039.4 1291.3 1039.8 1291.6 1053.0 1291.8 1088.3 1292.0 1070.9 1292.3 1027.4 1292.5 1000.5 1292.7 986.1 1293.0 972.7 1293.2 962.1 1293.5 957.2 1293.7 953.8 1293.9 948.8 1294.2 948.7 1294.4 951.0 1294.6 952.1 1294.9 958.0 1295.1 964.8 1295.3 972.9 1295.6 985.1 1295.8 1001.7 1296.1 1022.8 1296.3 1050.4 1296.5 1061.1 1296.8 1050.3 1297.0 1044.5 1297.2 1051.4 1297.5 1076.3 1297.7 1100.6 1297.9 1043.2 1298.2 1010.8 1298.4 991.3 1298.6 978.2 1298.9 966.4 1299.1 960.3 1299.4 953.0 1299.6 950.6 1299.8 947.9 1300.1 947.9 1300.3 950.2 1300.5 953.0 1300.8 959.3 1301.0 965.8 1301.2 974.7 1301.5 985.3 1301.7 1005.4 1302.0 1029.4 1302.2 1058.2 1302.4 1063.6 1302.7 1056.0 1302.9 1054.2 1303.1 1067.0 1303.4 1110.2 1303.6 1063.2 1303.8 1024.0 1304.1 1001.4 1304.3 984.6 1304.6 973.0 1304.8 963.9 1305.0 955.7 1305.3 950.9 1305.5 948.3 1305.7 947.2 1306.0 948.4 1306.2 949.8 1306.4 955.2 1306.7 959.8 1306.9 966.6 1307.2 977.3 1307.4 992.8 1307.6 1011.4 1307.9 1035.1 1308.1 1063.2 1308.3 1069.8 1308.6 1061.3 1308.8 1065.0 1309.0 1091.1 1309.3 1096.4 1309.5 1041.3 1309.8 1012.5 1310.0 990.5 1310.2 977.7 1310.5 967.4 1310.7 959.5 1310.9 952.5 1311.2 948.9 1311.4 948.1 1311.6 946.5 1311.9 948.8 1312.1 951.0 1312.3 955.9 1312.6 962.3 1312.8 970.4 1313.1 982.0 1313.3 995.7 1313.5 1015.4 1313.8 1043.0 1314.0 1072.6 1314.2 1073.3 1314.5 1071.1 1314.7 1083.3 1314.9 1122.6 1315.2 1064.8 1315.4 1026.1 1315.7 1003.0 1315.9 986.8 1316.1 973.5 1316.4 963.0 1316.6 956.9 1316.8 951.8 1317.1 949.0 1317.3 947.2 1317.5 945.5 1317.8 947.3 1318.0 951.8 1318.3 956.7 1318.5 963.2 1318.7 971.5 1319.0 985.0 1319.2 999.9 1319.4 1022.6 1319.7 1050.1 1319.9 1078.3 1320.1 1080.1 1320.4 1082.0 1320.6 1107.2 1320.9 1100.0 1321.1 1046.7 1321.3 1016.5 1321.6 995.1 1321.8 980.3 1322.0 968.1 1322.3 959.7 1322.5 954.4 1322.7 949.5 1323.0 946.7 1323.2 946.6 1323.4 946.7 1323.7 947.0 1323.9 952.7 1324.2 956.0 1324.4 964.0 1324.6 974.1 1324.9 986.2 1325.1 1002.9 1325.3 1024.3 1325.6 1055.4 1325.8 1086.2 1326.0 1089.9 1326.3 1095.3 1326.5 1135.9 1326.8 1074.7 1327.0 1033.7 1327.2 1008.5 1327.5 989.8 1327.7 976.0 1327.9 963.9 1328.2 959.3 1328.4 951.2 1328.6 947.7 1328.9 946.2 1329.1 945.0 1329.4 946.1 1329.6 948.0 1329.8 951.2 1330.1 959.0 1330.3 964.6 1330.5 976.2 1330.8 987.9 1331.0 1006.1 1331.2 1028.5 1331.5 1060.3 1331.7 1092.9 1332.0 1100.9 1332.2 1119.9 1332.4 1116.6 1332.7 1056.6 1332.9 1022.4 1333.1 1003.3 1333.4 985.4 1333.6 971.8 1333.8 964.1 1334.1 956.0 1334.3 948.7 1334.6 945.7 1334.8 945.6 1335.0 943.4 1335.3 944.7 1335.5 947.7 1335.7 952.3 1336.0 958.6 1336.2 967.7 1336.4 978.1 1336.7 990.9 1336.9 1009.3 1337.1 1031.9 1337.4 1066.4 1337.6 1104.2 1337.9 1115.6 1338.1 1148.6 1338.3 1091.7 1338.6 1045.6 1338.8 1017.8 1339.0 995.6 1339.3 982.1 1339.5 969.3 1339.7 961.2 1340.0 955.1 1340.2 948.1 1340.5 948.0 1340.7 945.1 1340.9 943.9 1341.2 945.9 1341.4 948.0 1341.6 953.3 1341.9 960.0 1342.1 966.5 1342.3 979.5 1342.6 993.7 1342.8 1013.0 1343.1 1037.5 1343.3 1070.6 1343.5 1111.2 1343.8 1134.4 1344.0 1149.5 1344.2 1075.7 1344.5 1038.9 1344.7 1012.1 1344.9 993.3 1345.2 979.5 1345.4 967.6 1345.7 959.8 1345.9 953.5 1346.1 946.8 1346.4 944.7 1346.6 943.0 1346.8 944.0 1347.1 944.9 1347.3 948.3 1347.5 952.8 1347.8 958.6 1348.0 969.5 1348.3 980.5 1348.5 995.4 1348.7 1017.3 1349.0 1041.2 1349.2 1075.8 1349.4 1121.3 1349.7 1160.5 1349.9 1124.0 1350.1 1065.0 1350.4 1032.0 1350.6 1006.7 1350.8 988.8 1351.1 976.2 1351.3 966.8 1351.6 956.7 1351.8 952.0 1352.0 947.8 1352.3 944.7 1352.5 944.1 1352.7 943.1 1353.0 945.2 1353.2 948.2 1353.4 953.8 1353.7 961.8 1353.9 970.4 1354.2 981.3 1354.4 997.3 1354.6 1014.2 1354.9 1043.2 1355.1 1080.8 1355.3 1132.0 1355.6 1173.2 1355.8 1109.4 1356.0 1059.4 1356.3 1027.2 1356.5 1004.4 1356.8 987.5 1357.0 975.3 1357.2 964.5 1357.5 956.3 1357.7 950.5 1357.9 949.5 1358.2 945.2 1358.4 944.1 1358.6 944.2 1358.9 945.8 1359.1 948.8 1359.4 954.2 1359.6 961.9 1359.8 971.1 1360.1 981.6 1360.3 998.9 1360.5 1018.2 1360.8 1044.2 1361.0 1084.3 1361.2 1146.5 1361.5 1173.2 1361.7 1100.6 1362.0 1055.0 1362.2 1024.1 1362.4 1002.8 1362.7 987.0 1362.9 973.3 1363.1 963.7 1363.4 956.3 1363.6 950.5 1363.8 946.5 1364.1 944.6 1364.3 943.8 1364.5 944.0 1364.8 946.9 1365.0 950.8 1365.3 954.0 1365.5 962.5 1365.7 971.8 1366.0 984.0 1366.2 999.4 1366.4 1019.9 1366.7 1047.7 1366.9 1089.4 1367.1 1158.7 1367.4 1164.1 1367.6 1094.5 1367.9 1054.2 1368.1 1024.4 1368.3 1001.4 1368.6 986.2 1368.8 974.0 1369.0 963.4 1369.3 957.0 1369.5 950.5 1369.7 948.4 1370.0 944.7 1370.2 944.0 1370.5 943.7 1370.7 945.6 1370.9 950.7 1371.2 954.1 1371.4 963.2 1371.6 973.9 1371.9 986.4 1372.1 999.1 1372.3 1021.2 1372.6 1050.3 1372.8 1093.9 1373.1 1173.2 1373.3 1148.3 1373.5 1093.8 1373.8 1050.7 1374.0 1023.5 1374.2 1004.0 1374.5 985.3 1374.7 973.7 1374.9 963.9 1375.2 954.9 1375.4 950.8 1375.7 945.8 1375.9 944.4 1376.1 944.2 1376.4 943.9 1376.6 946.9 1376.8 949.2 1377.1 954.8 1377.3 962.9 1377.5 972.1 1377.8 984.5 1378.0 1001.1 1378.2 1021.4 1378.5 1051.8 1378.7 1097.8 1379.0 1173.2 1379.2 1137.8 1379.4 1094.3 1379.7 1054.2 1379.9 1024.6 1380.1 1003.3 1380.4 986.0 1380.6 974.5 1380.8 963.7 1381.1 955.3 1381.3 950.6 1381.6 948.3 1381.8 944.5 1382.0 943.0 1382.3 944.7 1382.5 945.7" fill="none" stroke="#5546a5" stroke-width="2.0" stroke-linejoin="round"/>
<rect x="201.5" y="27.4" width="1181.0" height="296.0" fill="none" stroke="#231f20" stroke-width="2.8" stroke-linejoin="miter"/>
<rect x="201.5" y="437.4" width="1181.0" height="295.0" fill="none" stroke="#231f20" stroke-width="2.8" stroke-linejoin="miter"/>
<rect x="201.5" y="866.5" width="1181.0" height="295.9000000000001" fill="none" stroke="#231f20" stroke-width="2.8" stroke-linejoin="miter"/>
<line x1="201.5" y1="27.4" x2="215.0" y2="27.4" stroke="#231f20" stroke-width="2.8"/>
<line x1="201.5" y1="175.4" x2="215.0" y2="175.4" stroke="#231f20" stroke-width="2.8"/>
<rect x="94" y="174.05" width="28.9" height="2.7" fill="#231f20"/>
<line x1="201.5" y1="323.4" x2="215.0" y2="323.4" stroke="#231f20" stroke-width="2.8"/>
<rect x="94" y="322.05" width="28.9" height="2.7" fill="#231f20"/>
<line x1="201.5" y1="323.4" x2="201.5" y2="309.9" stroke="#231f20" stroke-width="2.8"/>
<line x1="496.8" y1="323.4" x2="496.8" y2="309.9" stroke="#231f20" stroke-width="2.8"/>
<line x1="792.0" y1="323.4" x2="792.0" y2="309.9" stroke="#231f20" stroke-width="2.8"/>
<line x1="1087.2" y1="323.4" x2="1087.2" y2="309.9" stroke="#231f20" stroke-width="2.8"/>
<line x1="1382.5" y1="323.4" x2="1382.5" y2="309.9" stroke="#231f20" stroke-width="2.8"/>
<line x1="201.5" y1="486.6" x2="215.0" y2="486.6" stroke="#231f20" stroke-width="2.8"/>
<rect x="94" y="485.22" width="28.9" height="2.7" fill="#231f20"/>
<line x1="201.5" y1="584.9" x2="215.0" y2="584.9" stroke="#231f20" stroke-width="2.8"/>
<rect x="94" y="583.55" width="28.9" height="2.7" fill="#231f20"/>
<line x1="201.5" y1="683.2" x2="215.0" y2="683.2" stroke="#231f20" stroke-width="2.8"/>
<rect x="94" y="681.88" width="28.9" height="2.7" fill="#231f20"/>
<line x1="201.5" y1="732.4" x2="201.5" y2="718.9" stroke="#231f20" stroke-width="2.8"/>
<line x1="496.8" y1="732.4" x2="496.8" y2="718.9" stroke="#231f20" stroke-width="2.8"/>
<line x1="792.0" y1="732.4" x2="792.0" y2="718.9" stroke="#231f20" stroke-width="2.8"/>
<line x1="1087.2" y1="732.4" x2="1087.2" y2="718.9" stroke="#231f20" stroke-width="2.8"/>
<line x1="1382.5" y1="732.4" x2="1382.5" y2="718.9" stroke="#231f20" stroke-width="2.8"/>
<line x1="201.5" y1="866.5" x2="215.0" y2="866.5" stroke="#231f20" stroke-width="2.8"/>
<line x1="201.5" y1="963.3" x2="215.0" y2="963.3" stroke="#231f20" stroke-width="2.8"/>
<rect x="94" y="961.99" width="28.9" height="2.7" fill="#231f20"/>
<line x1="201.5" y1="1060.2" x2="215.0" y2="1060.2" stroke="#231f20" stroke-width="2.8"/>
<rect x="94" y="1058.83" width="28.9" height="2.7" fill="#231f20"/>
<line x1="201.5" y1="1157.0" x2="215.0" y2="1157.0" stroke="#231f20" stroke-width="2.8"/>
<rect x="94" y="1155.67" width="28.9" height="2.7" fill="#231f20"/>
<line x1="201.5" y1="1162.4" x2="201.5" y2="1148.9" stroke="#231f20" stroke-width="2.8"/>
<line x1="496.8" y1="1162.4" x2="496.8" y2="1148.9" stroke="#231f20" stroke-width="2.8"/>
<line x1="792.0" y1="1162.4" x2="792.0" y2="1148.9" stroke="#231f20" stroke-width="2.8"/>
<line x1="1087.2" y1="1162.4" x2="1087.2" y2="1148.9" stroke="#231f20" stroke-width="2.8"/>
<line x1="1382.5" y1="1162.4" x2="1382.5" y2="1148.9" stroke="#231f20" stroke-width="2.8"/>
<line x1="215.2" y1="54.5" x2="274.5" y2="54.5" stroke="#231f20" stroke-width="2.8"/>
<line x1="215.2" y1="464.4" x2="274.5" y2="464.4" stroke="#de262b" stroke-width="3"/>
<line x1="215.2" y1="898.0" x2="274.5" y2="898.0" stroke="#4f42a0" stroke-width="2"/>
<line x1="749.3" y1="76" x2="749.3" y2="87" stroke="#231f20" stroke-width="3"/>
<line x1="853.2" y1="77.2" x2="853.2" y2="87" stroke="#231f20" stroke-width="3"/>
<line x1="768.3" y1="80.7" x2="834.2" y2="80.7" stroke="#231f20" stroke-width="2.0"/>
<polygon points="750.5,80.7 771.5,74.9 771.5,86.5" fill="#231f20"/>
<polygon points="852.0,80.7 831.0,74.9 831.0,86.5" fill="#231f20"/>
<line x1="730.7" y1="488.2" x2="730.7" y2="501.6" stroke="#231f20" stroke-width="3"/>
<line x1="840.4" y1="488.2" x2="840.4" y2="501.6" stroke="#231f20" stroke-width="3"/>
<line x1="749.7" y1="494.8" x2="821.4" y2="494.8" stroke="#231f20" stroke-width="2.0"/>
<polygon points="731.9000000000001,494.8 752.9000000000001,489.0 752.9000000000001,500.6" fill="#231f20"/>
<polygon points="839.1999999999999,494.8 818.1999999999999,489.0 818.1999999999999,500.6" fill="#231f20"/>
<line x1="742.6" y1="934" x2="744.2" y2="950.3" stroke="#231f20" stroke-width="3"/>
<line x1="1054.9" y1="930.2" x2="1056.1" y2="946.3" stroke="#231f20" stroke-width="3"/>
<line x1="763.1" y1="938.0" x2="1035.3" y2="938.0" stroke="#231f20" stroke-width="1.8"/>
<polygon points="744.8000000000001,938.0 766.3000000000001,932.0 766.3000000000001,944.0" fill="#231f20"/>
<polygon points="1053.6,938.0 1032.1,932.0 1032.1,944.0" fill="#231f20"/>
<text x="180" y="45.9" text-anchor="end" font-size="56">0</text>
<text x="180" y="193.9" text-anchor="end" font-size="56">20</text>
<text x="180" y="341.9" text-anchor="end" font-size="56">40</text>
<text x="203.0" y="390.9" text-anchor="middle" font-size="56" textLength="165.0" lengthAdjust="spacingAndGlyphs">1 545.0</text>
<text x="498.2" y="390.9" text-anchor="middle" font-size="56" textLength="165.0" lengthAdjust="spacingAndGlyphs">1 547.5</text>
<text x="793.5" y="390.9" text-anchor="middle" font-size="56" textLength="165.0" lengthAdjust="spacingAndGlyphs">1 550.0</text>
<text x="1088.8" y="390.9" text-anchor="middle" font-size="56" textLength="165.0" lengthAdjust="spacingAndGlyphs">1 552.5</text>
<text x="1384.0" y="390.9" text-anchor="middle" font-size="56" textLength="165.0" lengthAdjust="spacingAndGlyphs">1 555.0</text>
<text transform="translate(55.5 175.4) rotate(-90)" x="0" y="0" text-anchor="middle" font-size="55.7">Intensity/(dB)</text>
<text x="180" y="505.1" text-anchor="end" font-size="56">10</text>
<text x="180" y="603.4" text-anchor="end" font-size="56">20</text>
<text x="180" y="701.7" text-anchor="end" font-size="56">30</text>
<text x="203.0" y="799.9" text-anchor="middle" font-size="56" textLength="165.0" lengthAdjust="spacingAndGlyphs">1 545.0</text>
<text x="498.2" y="799.9" text-anchor="middle" font-size="56" textLength="165.0" lengthAdjust="spacingAndGlyphs">1 547.5</text>
<text x="793.5" y="799.9" text-anchor="middle" font-size="56" textLength="165.0" lengthAdjust="spacingAndGlyphs">1 550.0</text>
<text x="1088.8" y="799.9" text-anchor="middle" font-size="56" textLength="165.0" lengthAdjust="spacingAndGlyphs">1 552.5</text>
<text x="1384.0" y="799.9" text-anchor="middle" font-size="56" textLength="165.0" lengthAdjust="spacingAndGlyphs">1 555.0</text>
<text transform="translate(55.5 584.9) rotate(-90)" x="0" y="0" text-anchor="middle" font-size="55.7">Intensity/(dB)</text>
<text x="180" y="885.0" text-anchor="end" font-size="56">0</text>
<text x="180" y="981.8" text-anchor="end" font-size="56">18</text>
<text x="180" y="1078.7" text-anchor="end" font-size="56">36</text>
<text x="180" y="1175.5" text-anchor="end" font-size="56">54</text>
<text x="203.0" y="1229.9" text-anchor="middle" font-size="56" textLength="123.7" lengthAdjust="spacingAndGlyphs">1 450</text>
<text x="498.2" y="1229.9" text-anchor="middle" font-size="56" textLength="110.0" lengthAdjust="spacingAndGlyphs">1500</text>
<text x="793.5" y="1229.9" text-anchor="middle" font-size="56" textLength="123.7" lengthAdjust="spacingAndGlyphs">1 550</text>
<text x="1088.8" y="1229.9" text-anchor="middle" font-size="56" textLength="123.7" lengthAdjust="spacingAndGlyphs">1 600</text>
<text x="1384.0" y="1229.9" text-anchor="middle" font-size="56" textLength="123.7" lengthAdjust="spacingAndGlyphs">1 650</text>
<text transform="translate(55.5 1014.5) rotate(-90)" x="0" y="0" text-anchor="middle" font-size="55.7">Intensity/(dB)</text>
<text x="792" y="1312.6" text-anchor="middle" font-size="55.5">Wavelength/nm</text>
<text x="294" y="66.8" font-size="41">Lyot-Sagnac</text>
<text x="294" y="478.0" font-size="41.5">FPI</text>
<text x="294" y="913.3" font-size="41.6">Cascade structure</text>
<text x="732.5" y="65.2" font-size="41.7">0.88 nm</text>
<text x="706.3" y="475.6" font-size="41.8">0.895 nm</text>
<text x="847.3" y="923.4" font-size="41">53 nm</text>
</svg></body></html>
